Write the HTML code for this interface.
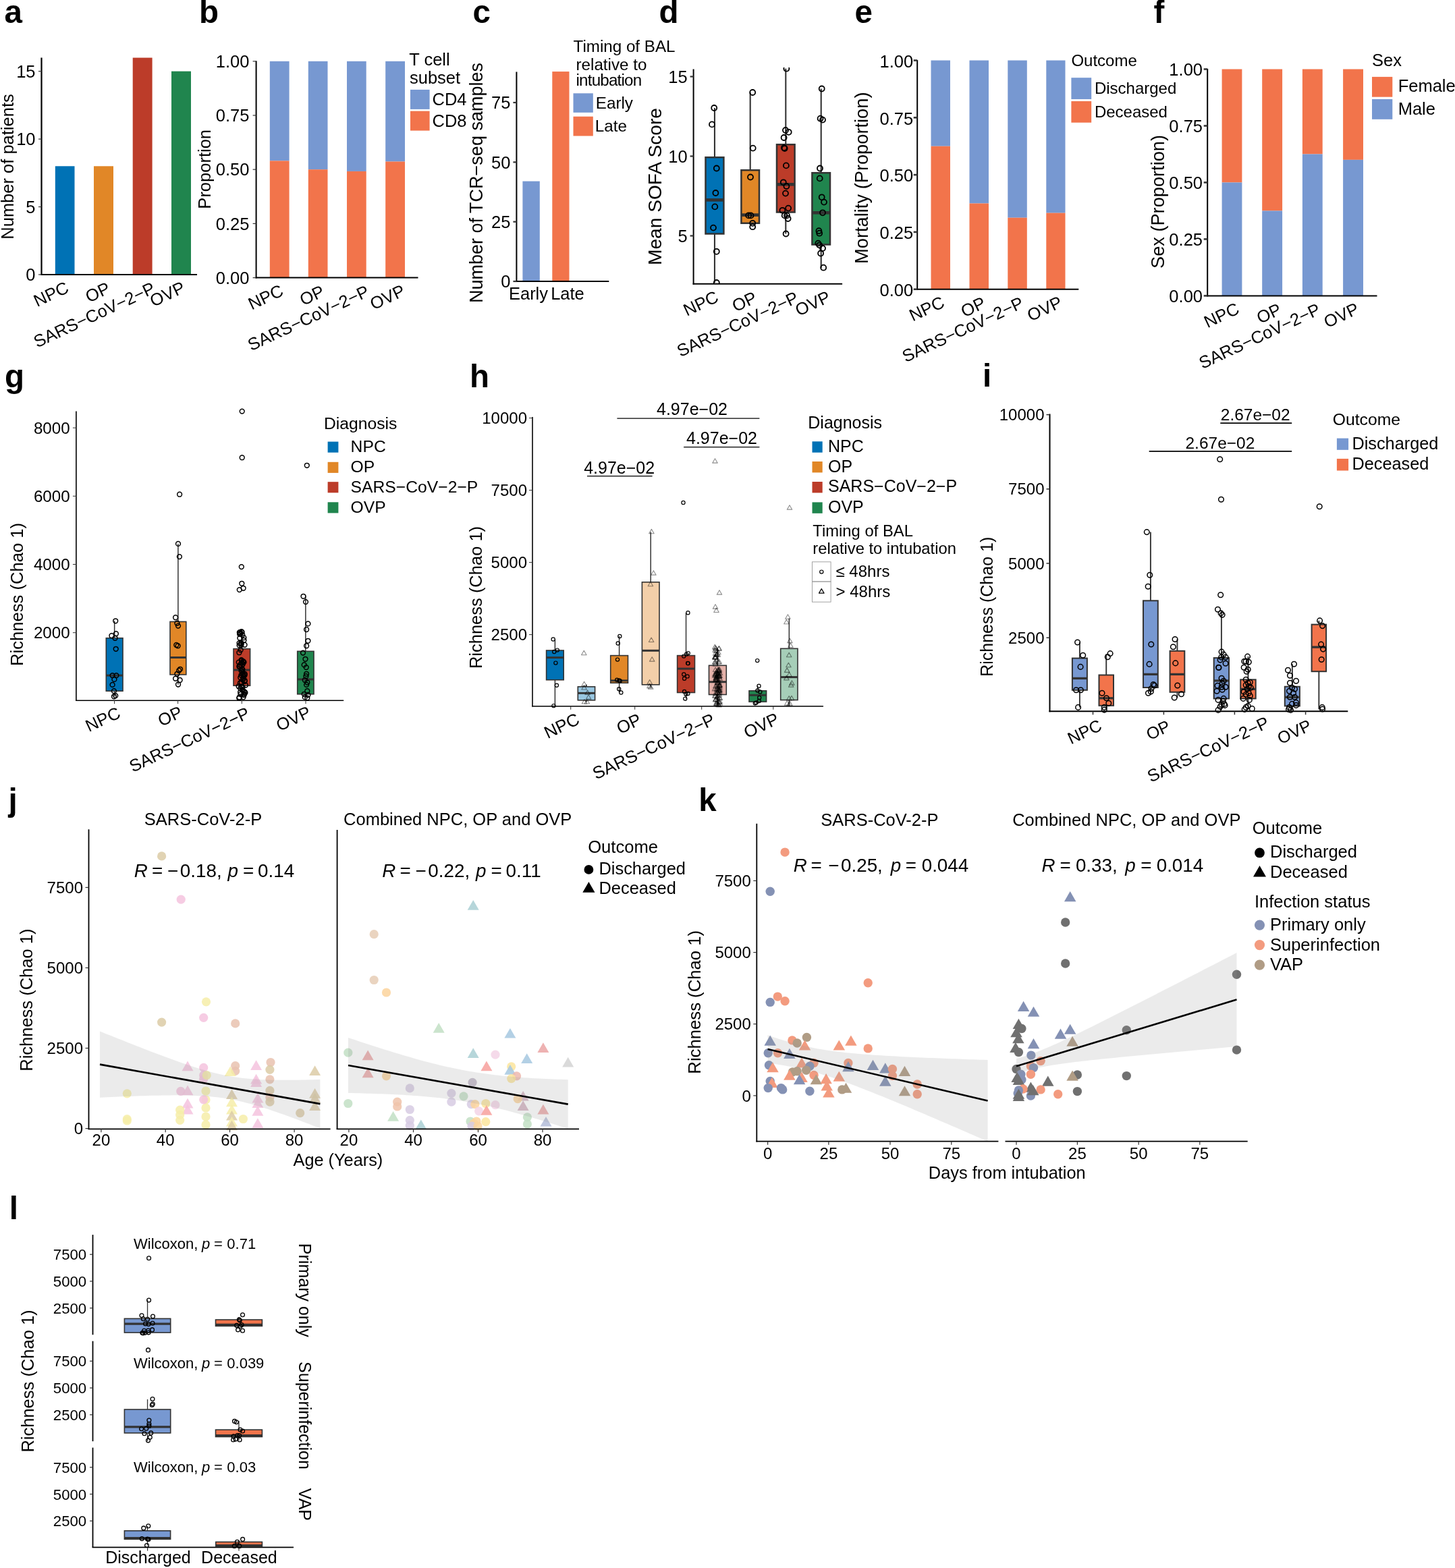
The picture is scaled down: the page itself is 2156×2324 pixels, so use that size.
<!DOCTYPE html>
<html><head><meta charset="utf-8"><title>Figure</title>
<style>
html,body{margin:0;padding:0;background:#fff;overflow:hidden;}
svg{display:block;}
text{font-family:"Liberation Sans",Arial,Helvetica,sans-serif;}
</style></head><body>
<svg width="2156" height="2324" viewBox="0 0 2156 2324">
<rect width="2156" height="2324" fill="#fff"/>
<text x="6.5" y="34.2" font-size="47.5" font-weight="bold">a</text>
<rect x="81.8" y="246.28" width="28.7" height="160.72" fill="#0072B5"/>
<rect x="139" y="246.28" width="29" height="160.72" fill="#E18727"/>
<rect x="196.7" y="85.56" width="28.9" height="321.44" fill="#BC3C29"/>
<rect x="254" y="105.65" width="29" height="301.35" fill="#20854E"/>
<line x1="61.5" y1="85.6" x2="61.5" y2="408" stroke="#000" stroke-width="2.2"/>
<line x1="60.4" y1="407" x2="292" y2="407" stroke="#000" stroke-width="2.2"/>
<line x1="57" y1="407" x2="61.5" y2="407" stroke="#333" stroke-width="1.2"/>
<text x="52.5" y="416.18" font-size="25.5" text-anchor="end">0</text>
<line x1="57" y1="306.55" x2="61.5" y2="306.55" stroke="#333" stroke-width="1.2"/>
<text x="52.5" y="315.73" font-size="25.5" text-anchor="end">5</text>
<line x1="57" y1="206.1" x2="61.5" y2="206.1" stroke="#333" stroke-width="1.2"/>
<text x="52.5" y="215.28" font-size="25.5" text-anchor="end">10</text>
<line x1="57" y1="105.65" x2="61.5" y2="105.65" stroke="#333" stroke-width="1.2"/>
<text x="52.5" y="114.83" font-size="25.5" text-anchor="end">15</text>
<text transform="translate(103.75 432.4) rotate(-25)" font-size="25.5" text-anchor="end">NPC</text>
<text transform="translate(165.1 433.4) rotate(-25)" font-size="25.5" text-anchor="end">OP</text>
<text transform="translate(231.75 433.4) rotate(-25)" font-size="25.5" text-anchor="end">SARS−CoV−2−P</text>
<text transform="translate(276.1 432.4) rotate(-25)" font-size="25.5" text-anchor="end">OVP</text>
<text transform="translate(19.5 247) rotate(-90)" font-size="25.5" text-anchor="middle">Number of patients</text>
<text x="295" y="34.2" font-size="47.5" font-weight="bold">b</text>
<rect x="399.8" y="90.8" width="28.8" height="147.57" fill="#7798D1"/>
<rect x="399.8" y="238.37" width="28.8" height="173.23" fill="#F2744B"/>
<rect x="456.8" y="90.8" width="28.7" height="160.4" fill="#7798D1"/>
<rect x="456.8" y="251.2" width="28.7" height="160.4" fill="#F2744B"/>
<rect x="514" y="90.8" width="28.7" height="163.13" fill="#7798D1"/>
<rect x="514" y="253.93" width="28.7" height="157.67" fill="#F2744B"/>
<rect x="571.2" y="90.8" width="28.8" height="148.69" fill="#7798D1"/>
<rect x="571.2" y="239.49" width="28.8" height="172.11" fill="#F2744B"/>
<line x1="379.6" y1="90.3" x2="379.6" y2="412.6" stroke="#000" stroke-width="2"/>
<line x1="378.6" y1="411.6" x2="619.5" y2="411.6" stroke="#000" stroke-width="2"/>
<line x1="374.6" y1="411.6" x2="379.6" y2="411.6" stroke="#333" stroke-width="1.2"/>
<text x="369.4" y="420.78" font-size="25.5" text-anchor="end">0.00</text>
<line x1="374.6" y1="331.4" x2="379.6" y2="331.4" stroke="#333" stroke-width="1.2"/>
<text x="369.4" y="340.58" font-size="25.5" text-anchor="end">0.25</text>
<line x1="374.6" y1="251.2" x2="379.6" y2="251.2" stroke="#333" stroke-width="1.2"/>
<text x="369.4" y="260.38" font-size="25.5" text-anchor="end">0.50</text>
<line x1="374.6" y1="171" x2="379.6" y2="171" stroke="#333" stroke-width="1.2"/>
<text x="369.4" y="180.18" font-size="25.5" text-anchor="end">0.75</text>
<line x1="374.6" y1="90.8" x2="379.6" y2="90.8" stroke="#333" stroke-width="1.2"/>
<text x="369.4" y="99.98" font-size="25.5" text-anchor="end">1.00</text>
<text transform="translate(421.8 437) rotate(-25)" font-size="25.5" text-anchor="end">NPC</text>
<text transform="translate(482.75 438) rotate(-25)" font-size="25.5" text-anchor="end">OP</text>
<text transform="translate(548.95 438) rotate(-25)" font-size="25.5" text-anchor="end">SARS−CoV−2−P</text>
<text transform="translate(602.2 437) rotate(-25)" font-size="25.5" text-anchor="end">OVP</text>
<text transform="translate(311.5 250.8) rotate(-90)" font-size="25.5" text-anchor="middle">Proportion</text>
<text x="606.2" y="97" font-size="25.5">T cell</text>
<text x="607" y="123.5" font-size="25.5">subset</text>
<rect x="608" y="132.9" width="28.6" height="29" fill="#7798D1"/>
<rect x="608" y="164.6" width="28.6" height="29" fill="#F2744B"/>
<text x="640.5" y="156" font-size="25.5">CD4</text>
<text x="640.5" y="187.5" font-size="25.5">CD8</text>
<text x="700.5" y="34.2" font-size="47.5" font-weight="bold">c</text>
<rect x="774.4" y="268.6" width="25.4" height="148.4" fill="#7798D1"/>
<rect x="818.3" y="106.07" width="25.2" height="310.93" fill="#F2744B"/>
<line x1="765.4" y1="106.6" x2="765.4" y2="418" stroke="#000" stroke-width="2"/>
<line x1="764.4" y1="417" x2="902.3" y2="417" stroke="#000" stroke-width="2"/>
<line x1="760.4" y1="417" x2="765.4" y2="417" stroke="#333" stroke-width="2.2"/>
<text x="756.4" y="426.18" font-size="25.5" text-anchor="end">0</text>
<line x1="760.4" y1="328.67" x2="765.4" y2="328.67" stroke="#333" stroke-width="2.2"/>
<text x="756.4" y="337.85" font-size="25.5" text-anchor="end">25</text>
<line x1="760.4" y1="240.34" x2="765.4" y2="240.34" stroke="#333" stroke-width="2.2"/>
<text x="756.4" y="249.52" font-size="25.5" text-anchor="end">50</text>
<line x1="760.4" y1="152" x2="765.4" y2="152" stroke="#333" stroke-width="2.2"/>
<text x="756.4" y="161.18" font-size="25.5" text-anchor="end">75</text>
<text x="783" y="443.5" font-size="25.5" text-anchor="middle">Early</text>
<text x="841" y="443.5" font-size="25.5" text-anchor="middle">Late</text>
<text transform="translate(715 271) rotate(-90)" font-size="27" text-anchor="middle">Number of TCR−seq samples</text>
<text x="849.5" y="77.4" font-size="24.2">Timing of BAL</text>
<text x="853.5" y="104.4" font-size="24.2">relative to</text>
<text x="853.5" y="127.4" font-size="24.2" letter-spacing="-0.8">intubation</text>
<rect x="849.5" y="138.3" width="29.3" height="28.5" fill="#7798D1"/>
<rect x="849.5" y="172.7" width="29.3" height="28.8" fill="#F2744B"/>
<text x="882.8" y="160.5" font-size="24.2">Early</text>
<text x="881.8" y="194.5" font-size="24.2">Late</text>
<text x="976.5" y="34.2" font-size="47.5" font-weight="bold">d</text>
<line x1="1027.6" y1="102.5" x2="1027.6" y2="421.8" stroke="#000" stroke-width="2"/>
<line x1="1026.6" y1="420.8" x2="1248.1" y2="420.8" stroke="#000" stroke-width="2"/>
<line x1="1022.6" y1="349.5" x2="1027.6" y2="349.5" stroke="#333" stroke-width="2.2"/>
<text x="1018.6" y="358.68" font-size="25.5" text-anchor="end">5</text>
<line x1="1022.6" y1="231.5" x2="1027.6" y2="231.5" stroke="#333" stroke-width="2.2"/>
<text x="1018.6" y="240.68" font-size="25.5" text-anchor="end">10</text>
<line x1="1022.6" y1="113.5" x2="1027.6" y2="113.5" stroke="#333" stroke-width="2.2"/>
<text x="1018.6" y="122.68" font-size="25.5" text-anchor="end">15</text>
<text transform="translate(1066.55 446.2) rotate(-25)" font-size="25.5" text-anchor="end">NPC</text>
<text transform="translate(1123.3 447.2) rotate(-25)" font-size="25.5" text-anchor="end">OP</text>
<text transform="translate(1184.9 447.2) rotate(-25)" font-size="25.5" text-anchor="end">SARS−CoV−2−P</text>
<text transform="translate(1232.3 446.2) rotate(-25)" font-size="25.5" text-anchor="end">OVP</text>
<text transform="translate(980 276.5) rotate(-90)" font-size="28.15" text-anchor="middle">Mean SOFA Score</text>
<clipPath id="clipd"><rect x="1028" y="100" width="230" height="320"/></clipPath><g clip-path="url(#clipd)">
<line x1="1058.95" y1="160" x2="1058.95" y2="233.2" stroke="#333" stroke-width="2.1"/>
<line x1="1058.95" y1="346.5" x2="1058.95" y2="419" stroke="#333" stroke-width="2.1"/>
<rect x="1045.5" y="233.2" width="26.9" height="113.3" fill="#0072B5" stroke="#333" stroke-width="2.5"/>
<line x1="1045.5" y1="296.4" x2="1072.4" y2="296.4" stroke="#333" stroke-width="4.6"/>
<line x1="1111.7" y1="137" x2="1111.7" y2="252.2" stroke="#333" stroke-width="2.1"/>
<rect x="1098.4" y="252.2" width="26.6" height="78.6" fill="#E18727" stroke="#333" stroke-width="2.5"/>
<line x1="1098.4" y1="318.6" x2="1125" y2="318.6" stroke="#333" stroke-width="4.6"/>
<line x1="1164.3" y1="101.7" x2="1164.3" y2="214.2" stroke="#333" stroke-width="2.1"/>
<line x1="1164.3" y1="314.5" x2="1164.3" y2="346.5" stroke="#333" stroke-width="2.1"/>
<rect x="1151" y="214.2" width="26.6" height="100.3" fill="#BC3C29" stroke="#333" stroke-width="2.5"/>
<line x1="1151" y1="273.3" x2="1177.6" y2="273.3" stroke="#333" stroke-width="4.6"/>
<line x1="1216.7" y1="131.5" x2="1216.7" y2="256.2" stroke="#333" stroke-width="2.1"/>
<line x1="1216.7" y1="362.5" x2="1216.7" y2="397.2" stroke="#333" stroke-width="2.1"/>
<rect x="1203.4" y="256.2" width="26.6" height="106.3" fill="#20854E" stroke="#333" stroke-width="2.5"/>
<line x1="1203.4" y1="315.3" x2="1230" y2="315.3" stroke="#333" stroke-width="4.6"/>
<circle cx="1058.2" cy="160" r="4" fill="none" stroke="#000" stroke-width="1.8"/>
<circle cx="1055" cy="184.4" r="4" fill="none" stroke="#000" stroke-width="1.8"/>
<circle cx="1061.8" cy="249.5" r="4" fill="none" stroke="#000" stroke-width="1.8"/>
<circle cx="1060.4" cy="286" r="4" fill="none" stroke="#000" stroke-width="1.8"/>
<circle cx="1059.3" cy="306.4" r="4" fill="none" stroke="#000" stroke-width="1.8"/>
<circle cx="1057" cy="337.6" r="4" fill="none" stroke="#000" stroke-width="1.8"/>
<circle cx="1061.8" cy="372.8" r="4" fill="none" stroke="#000" stroke-width="1.8"/>
<circle cx="1061.8" cy="419" r="4" fill="none" stroke="#000" stroke-width="1.8"/>
<circle cx="1115.2" cy="137" r="4" fill="none" stroke="#000" stroke-width="1.8"/>
<circle cx="1115.7" cy="219.6" r="4" fill="none" stroke="#000" stroke-width="1.8"/>
<circle cx="1112" cy="262.5" r="4" fill="none" stroke="#000" stroke-width="1.8"/>
<circle cx="1109.2" cy="319.4" r="4" fill="none" stroke="#000" stroke-width="1.8"/>
<circle cx="1112.5" cy="319.4" r="4" fill="none" stroke="#000" stroke-width="1.8"/>
<circle cx="1115.2" cy="330.8" r="4" fill="none" stroke="#000" stroke-width="1.8"/>
<circle cx="1115.2" cy="336.2" r="4" fill="none" stroke="#000" stroke-width="1.8"/>
<circle cx="1165.4" cy="101.7" r="4" fill="none" stroke="#000" stroke-width="1.8"/>
<circle cx="1164" cy="193" r="4" fill="none" stroke="#000" stroke-width="1.8"/>
<circle cx="1168.7" cy="195.8" r="4" fill="none" stroke="#000" stroke-width="1.8"/>
<circle cx="1161.6" cy="204" r="4" fill="none" stroke="#000" stroke-width="1.8"/>
<circle cx="1161.9" cy="219" r="4" fill="none" stroke="#000" stroke-width="1.8"/>
<circle cx="1162.7" cy="220" r="4" fill="none" stroke="#000" stroke-width="1.8"/>
<circle cx="1164.9" cy="245.4" r="4" fill="none" stroke="#000" stroke-width="1.8"/>
<circle cx="1160.8" cy="270.3" r="4" fill="none" stroke="#000" stroke-width="1.8"/>
<circle cx="1165.4" cy="276" r="4" fill="none" stroke="#000" stroke-width="1.8"/>
<circle cx="1164" cy="286.6" r="4" fill="none" stroke="#000" stroke-width="1.8"/>
<circle cx="1168.1" cy="308.6" r="4" fill="none" stroke="#000" stroke-width="1.8"/>
<circle cx="1159.4" cy="311.8" r="4" fill="none" stroke="#000" stroke-width="1.8"/>
<circle cx="1162.7" cy="319.4" r="4" fill="none" stroke="#000" stroke-width="1.8"/>
<circle cx="1166" cy="319.4" r="4" fill="none" stroke="#000" stroke-width="1.8"/>
<circle cx="1167.6" cy="324" r="4" fill="none" stroke="#000" stroke-width="1.8"/>
<circle cx="1164.6" cy="346.5" r="4" fill="none" stroke="#000" stroke-width="1.8"/>
<circle cx="1217.7" cy="131.5" r="4" fill="none" stroke="#000" stroke-width="1.8"/>
<circle cx="1215.6" cy="175.7" r="4" fill="none" stroke="#000" stroke-width="1.8"/>
<circle cx="1219" cy="177.6" r="4" fill="none" stroke="#000" stroke-width="1.8"/>
<circle cx="1215" cy="249.5" r="4" fill="none" stroke="#000" stroke-width="1.8"/>
<circle cx="1214.7" cy="264.4" r="4" fill="none" stroke="#000" stroke-width="1.8"/>
<circle cx="1217.7" cy="292.3" r="4" fill="none" stroke="#000" stroke-width="1.8"/>
<circle cx="1221" cy="299.6" r="4" fill="none" stroke="#000" stroke-width="1.8"/>
<circle cx="1219" cy="315.3" r="4" fill="none" stroke="#000" stroke-width="1.8"/>
<circle cx="1213.4" cy="342.2" r="4" fill="none" stroke="#000" stroke-width="1.8"/>
<circle cx="1214.2" cy="345.7" r="4" fill="none" stroke="#000" stroke-width="1.8"/>
<circle cx="1212.3" cy="360.6" r="4" fill="none" stroke="#000" stroke-width="1.8"/>
<circle cx="1214.2" cy="363.3" r="4" fill="none" stroke="#000" stroke-width="1.8"/>
<circle cx="1219" cy="368" r="4" fill="none" stroke="#000" stroke-width="1.8"/>
<circle cx="1216.1" cy="375.5" r="4" fill="none" stroke="#000" stroke-width="1.8"/>
<circle cx="1220.2" cy="396.7" r="4" fill="none" stroke="#000" stroke-width="1.8"/>
</g>
<text x="1266.5" y="34.2" font-size="47.5" font-weight="bold">e</text>
<rect x="1379.5" y="89.5" width="28.5" height="127.2" fill="#7798D1"/>
<rect x="1379.5" y="216.7" width="28.5" height="212" fill="#F2744B"/>
<rect x="1436.5" y="89.5" width="28.5" height="212" fill="#7798D1"/>
<rect x="1436.5" y="301.5" width="28.5" height="127.2" fill="#F2744B"/>
<rect x="1493.3" y="89.5" width="28.5" height="233.2" fill="#7798D1"/>
<rect x="1493.3" y="322.7" width="28.5" height="106" fill="#F2744B"/>
<rect x="1550.3" y="89.5" width="28.2" height="226.14" fill="#7798D1"/>
<rect x="1550.3" y="315.64" width="28.2" height="113.06" fill="#F2744B"/>
<line x1="1359.2" y1="89" x2="1359.2" y2="429.7" stroke="#000" stroke-width="2"/>
<line x1="1358.2" y1="428.7" x2="1598.3" y2="428.7" stroke="#000" stroke-width="2"/>
<line x1="1353.7" y1="428.7" x2="1359.2" y2="428.7" stroke="#333" stroke-width="2.6"/>
<text x="1353.2" y="438.9" font-size="25.5" text-anchor="end">0.00</text>
<line x1="1353.7" y1="343.9" x2="1359.2" y2="343.9" stroke="#333" stroke-width="2.6"/>
<text x="1353.2" y="354.1" font-size="25.5" text-anchor="end">0.25</text>
<line x1="1353.7" y1="259.1" x2="1359.2" y2="259.1" stroke="#333" stroke-width="2.6"/>
<text x="1353.2" y="269.3" font-size="25.5" text-anchor="end">0.50</text>
<line x1="1353.7" y1="174.3" x2="1359.2" y2="174.3" stroke="#333" stroke-width="2.6"/>
<text x="1353.2" y="184.5" font-size="25.5" text-anchor="end">0.75</text>
<line x1="1353.7" y1="89.5" x2="1359.2" y2="89.5" stroke="#333" stroke-width="2.6"/>
<text x="1353.2" y="99.7" font-size="25.5" text-anchor="end">1.00</text>
<text transform="translate(1401.35 454.1) rotate(-25)" font-size="25.5" text-anchor="end">NPC</text>
<text transform="translate(1462.35 455.1) rotate(-25)" font-size="25.5" text-anchor="end">OP</text>
<text transform="translate(1518.65 455.1) rotate(-25)" font-size="25.5" text-anchor="end">SARS−CoV−2−P</text>
<text transform="translate(1576 454.1) rotate(-25)" font-size="25.5" text-anchor="end">OVP</text>
<text transform="translate(1285.8 263.7) rotate(-90)" font-size="27.25" text-anchor="middle">Mortality (Proportion)</text>
<text x="1587.4" y="98.2" font-size="24">Outcome</text>
<rect x="1587.4" y="115.2" width="29.8" height="31.8" fill="#7798D1"/>
<rect x="1587.4" y="150" width="29.8" height="31.7" fill="#F2744B"/>
<text x="1621.9" y="139" font-size="24">Discharged</text>
<text x="1621.9" y="173.5" font-size="24">Deceased</text>
<text x="1709.5" y="34.2" font-size="47.5" font-weight="bold">f</text>
<rect x="1810.6" y="102.5" width="29.8" height="167.95" fill="#F2744B"/>
<rect x="1810.6" y="270.45" width="29.8" height="167.95" fill="#7798D1"/>
<rect x="1870.2" y="102.5" width="29.9" height="209.94" fill="#F2744B"/>
<rect x="1870.2" y="312.44" width="29.9" height="125.96" fill="#7798D1"/>
<rect x="1929.9" y="102.5" width="29.8" height="125.96" fill="#F2744B"/>
<rect x="1929.9" y="228.46" width="29.8" height="209.94" fill="#7798D1"/>
<rect x="1990.1" y="102.5" width="29.9" height="134.36" fill="#F2744B"/>
<rect x="1990.1" y="236.86" width="29.9" height="201.54" fill="#7798D1"/>
<line x1="1789.2" y1="102" x2="1789.2" y2="439.4" stroke="#000" stroke-width="2"/>
<line x1="1788.2" y1="438.4" x2="2040.5" y2="438.4" stroke="#000" stroke-width="2"/>
<line x1="1783.7" y1="438.4" x2="1789.2" y2="438.4" stroke="#333" stroke-width="2.6"/>
<text x="1782" y="447.58" font-size="25.5" text-anchor="end">0.00</text>
<line x1="1783.7" y1="354.42" x2="1789.2" y2="354.42" stroke="#333" stroke-width="2.6"/>
<text x="1782" y="363.6" font-size="25.5" text-anchor="end">0.25</text>
<line x1="1783.7" y1="270.45" x2="1789.2" y2="270.45" stroke="#333" stroke-width="2.6"/>
<text x="1782" y="279.63" font-size="25.5" text-anchor="end">0.50</text>
<line x1="1783.7" y1="186.47" x2="1789.2" y2="186.47" stroke="#333" stroke-width="2.6"/>
<text x="1782" y="195.66" font-size="25.5" text-anchor="end">0.75</text>
<line x1="1783.7" y1="102.5" x2="1789.2" y2="102.5" stroke="#333" stroke-width="2.6"/>
<text x="1782" y="111.68" font-size="25.5" text-anchor="end">1.00</text>
<text transform="translate(1838.1 463.8) rotate(-25)" font-size="25.5" text-anchor="end">NPC</text>
<text transform="translate(1900.75 464.8) rotate(-25)" font-size="25.5" text-anchor="end">OP</text>
<text transform="translate(1958.4 464.8) rotate(-25)" font-size="25.5" text-anchor="end">SARS−CoV−2−P</text>
<text transform="translate(2015.65 463.8) rotate(-25)" font-size="25.5" text-anchor="end">OVP</text>
<text transform="translate(1724.5 299) rotate(-90)" font-size="27.2" text-anchor="middle">Sex (Proportion)</text>
<text x="2033" y="98.2" font-size="25.5">Sex</text>
<rect x="2033" y="113.9" width="30.3" height="29.8" fill="#F2744B"/>
<rect x="2033" y="147" width="30.3" height="29.8" fill="#7798D1"/>
<text x="2071.7" y="135.8" font-size="25.5">Female</text>
<text x="2071.7" y="169.8" font-size="25.5">Male</text>
<text x="7" y="574" font-size="47.5" font-weight="bold">g</text>
<line x1="169.65" y1="920.3" x2="169.65" y2="945.7" stroke="#333" stroke-width="1.5"/>
<line x1="169.65" y1="1024.2" x2="169.65" y2="1032.3" stroke="#333" stroke-width="1.5"/>
<rect x="157.3" y="945.7" width="24.7" height="78.5" fill="#0072B5" stroke="#333" stroke-width="1.6"/>
<line x1="157.3" y1="1001.1" x2="182" y2="1001.1" stroke="#333" stroke-width="3"/>
<line x1="263.9" y1="805.9" x2="263.9" y2="921.4" stroke="#333" stroke-width="1.5"/>
<line x1="263.9" y1="999.9" x2="263.9" y2="1014.5" stroke="#333" stroke-width="1.5"/>
<rect x="252" y="921.4" width="23.8" height="78.5" fill="#E18727" stroke="#333" stroke-width="1.6"/>
<line x1="252" y1="974.5" x2="275.8" y2="974.5" stroke="#333" stroke-width="3"/>
<line x1="358.3" y1="935.7" x2="358.3" y2="961.6" stroke="#333" stroke-width="1.5"/>
<line x1="358.3" y1="1016.2" x2="358.3" y2="1037.5" stroke="#333" stroke-width="1.5"/>
<rect x="346" y="961.6" width="24.6" height="54.6" fill="#BC3C29" stroke="#333" stroke-width="1.6"/>
<line x1="346" y1="993" x2="370.6" y2="993" stroke="#333" stroke-width="3"/>
<line x1="452.85" y1="883.3" x2="452.85" y2="965.3" stroke="#333" stroke-width="1.5"/>
<line x1="452.85" y1="1028.8" x2="452.85" y2="1034.6" stroke="#333" stroke-width="1.5"/>
<rect x="440.7" y="965.3" width="24.3" height="63.5" fill="#20854E" stroke="#333" stroke-width="1.6"/>
<line x1="440.7" y1="1006.9" x2="465" y2="1006.9" stroke="#333" stroke-width="3"/>
<circle cx="171.2" cy="920.3" r="3.4" fill="none" stroke="#000" stroke-width="1.5"/>
<circle cx="165.4" cy="942.2" r="3.4" fill="none" stroke="#000" stroke-width="1.5"/>
<circle cx="171.9" cy="939.2" r="3.4" fill="none" stroke="#000" stroke-width="1.5"/>
<circle cx="170.5" cy="945.7" r="3.4" fill="none" stroke="#000" stroke-width="1.5"/>
<circle cx="171.7" cy="961.8" r="3.4" fill="none" stroke="#000" stroke-width="1.5"/>
<circle cx="166.6" cy="1001.1" r="3.4" fill="none" stroke="#000" stroke-width="1.5"/>
<circle cx="172.4" cy="1001.1" r="3.4" fill="none" stroke="#000" stroke-width="1.5"/>
<circle cx="169.4" cy="1006.9" r="3.4" fill="none" stroke="#000" stroke-width="1.5"/>
<circle cx="166.6" cy="1014.9" r="3.4" fill="none" stroke="#000" stroke-width="1.5"/>
<circle cx="168.9" cy="1024.2" r="3.4" fill="none" stroke="#000" stroke-width="1.5"/>
<circle cx="171.2" cy="1031.1" r="3.4" fill="none" stroke="#000" stroke-width="1.5"/>
<circle cx="168.9" cy="1032.3" r="3.4" fill="none" stroke="#000" stroke-width="1.5"/>
<circle cx="266.1" cy="732.7" r="3.4" fill="none" stroke="#000" stroke-width="1.5"/>
<circle cx="264" cy="805.9" r="3.4" fill="none" stroke="#000" stroke-width="1.5"/>
<circle cx="265.9" cy="825.1" r="3.4" fill="none" stroke="#000" stroke-width="1.5"/>
<circle cx="260.1" cy="915.2" r="3.4" fill="none" stroke="#000" stroke-width="1.5"/>
<circle cx="262.4" cy="923.7" r="3.4" fill="none" stroke="#000" stroke-width="1.5"/>
<circle cx="264" cy="927.6" r="3.4" fill="none" stroke="#000" stroke-width="1.5"/>
<circle cx="261.3" cy="956" r="3.4" fill="none" stroke="#000" stroke-width="1.5"/>
<circle cx="263.6" cy="957.2" r="3.4" fill="none" stroke="#000" stroke-width="1.5"/>
<circle cx="267" cy="991.8" r="3.4" fill="none" stroke="#000" stroke-width="1.5"/>
<circle cx="265.2" cy="993.7" r="3.4" fill="none" stroke="#000" stroke-width="1.5"/>
<circle cx="262.4" cy="998.8" r="3.4" fill="none" stroke="#000" stroke-width="1.5"/>
<circle cx="260.1" cy="1005.7" r="3.4" fill="none" stroke="#000" stroke-width="1.5"/>
<circle cx="266.6" cy="1008" r="3.4" fill="none" stroke="#000" stroke-width="1.5"/>
<circle cx="264" cy="1014.5" r="3.4" fill="none" stroke="#000" stroke-width="1.5"/>
<circle cx="358.7" cy="609.6" r="3.4" fill="none" stroke="#000" stroke-width="1.5"/>
<circle cx="358.7" cy="678.2" r="3.4" fill="none" stroke="#000" stroke-width="1.5"/>
<circle cx="357.8" cy="840.1" r="3.4" fill="none" stroke="#000" stroke-width="1.5"/>
<circle cx="358.3" cy="864.8" r="3.4" fill="none" stroke="#000" stroke-width="1.5"/>
<circle cx="354.8" cy="874.1" r="3.4" fill="none" stroke="#000" stroke-width="1.5"/>
<circle cx="360.6" cy="871.8" r="3.4" fill="none" stroke="#000" stroke-width="1.5"/>
<circle cx="454.8" cy="689.8" r="3.4" fill="none" stroke="#000" stroke-width="1.5"/>
<circle cx="449.5" cy="883.8" r="3.4" fill="none" stroke="#000" stroke-width="1.5"/>
<circle cx="453" cy="892.1" r="3.4" fill="none" stroke="#000" stroke-width="1.5"/>
<circle cx="456.4" cy="924.4" r="3.4" fill="none" stroke="#000" stroke-width="1.5"/>
<circle cx="454.1" cy="933" r="3.4" fill="none" stroke="#000" stroke-width="1.5"/>
<circle cx="456.4" cy="949.8" r="3.4" fill="none" stroke="#000" stroke-width="1.5"/>
<circle cx="454.1" cy="957.2" r="3.4" fill="none" stroke="#000" stroke-width="1.5"/>
<circle cx="449" cy="967.6" r="3.4" fill="none" stroke="#000" stroke-width="1.5"/>
<circle cx="452.5" cy="976.8" r="3.4" fill="none" stroke="#000" stroke-width="1.5"/>
<circle cx="450.7" cy="985.4" r="3.4" fill="none" stroke="#000" stroke-width="1.5"/>
<circle cx="453.7" cy="989.1" r="3.4" fill="none" stroke="#000" stroke-width="1.5"/>
<circle cx="454.1" cy="998.8" r="3.4" fill="none" stroke="#000" stroke-width="1.5"/>
<circle cx="453.4" cy="1002.2" r="3.4" fill="none" stroke="#000" stroke-width="1.5"/>
<circle cx="451.8" cy="1008" r="3.4" fill="none" stroke="#000" stroke-width="1.5"/>
<circle cx="455.3" cy="1011.5" r="3.4" fill="none" stroke="#000" stroke-width="1.5"/>
<circle cx="454.1" cy="1014.9" r="3.4" fill="none" stroke="#000" stroke-width="1.5"/>
<circle cx="455.3" cy="1024.2" r="3.4" fill="none" stroke="#000" stroke-width="1.5"/>
<circle cx="450.7" cy="1028.8" r="3.4" fill="none" stroke="#000" stroke-width="1.5"/>
<circle cx="456.4" cy="1030" r="3.4" fill="none" stroke="#000" stroke-width="1.5"/>
<circle cx="451.8" cy="1033.4" r="3.4" fill="none" stroke="#000" stroke-width="1.5"/>
<circle cx="455.3" cy="1034.6" r="3.4" fill="none" stroke="#000" stroke-width="1.5"/>
<circle cx="355.36" cy="945.69" r="3.4" fill="none" stroke="#000" stroke-width="1.5"/>
<circle cx="354.65" cy="956.48" r="3.4" fill="none" stroke="#000" stroke-width="1.5"/>
<circle cx="357.29" cy="952.68" r="3.4" fill="none" stroke="#000" stroke-width="1.5"/>
<circle cx="358.57" cy="936.91" r="3.4" fill="none" stroke="#000" stroke-width="1.5"/>
<circle cx="357.9" cy="936.24" r="3.4" fill="none" stroke="#000" stroke-width="1.5"/>
<circle cx="354.82" cy="937.31" r="3.4" fill="none" stroke="#000" stroke-width="1.5"/>
<circle cx="361.44" cy="949.01" r="3.4" fill="none" stroke="#000" stroke-width="1.5"/>
<circle cx="356.01" cy="939.09" r="3.4" fill="none" stroke="#000" stroke-width="1.5"/>
<circle cx="362.53" cy="955.71" r="3.4" fill="none" stroke="#000" stroke-width="1.5"/>
<circle cx="357.57" cy="954.04" r="3.4" fill="none" stroke="#000" stroke-width="1.5"/>
<circle cx="354.42" cy="967.22" r="3.4" fill="none" stroke="#000" stroke-width="1.5"/>
<circle cx="356.61" cy="963.33" r="3.4" fill="none" stroke="#000" stroke-width="1.5"/>
<circle cx="355.06" cy="939.76" r="3.4" fill="none" stroke="#000" stroke-width="1.5"/>
<circle cx="361.35" cy="945.18" r="3.4" fill="none" stroke="#000" stroke-width="1.5"/>
<circle cx="359.23" cy="940.96" r="3.4" fill="none" stroke="#000" stroke-width="1.5"/>
<circle cx="357.35" cy="956.08" r="3.4" fill="none" stroke="#000" stroke-width="1.5"/>
<circle cx="354.57" cy="953.08" r="3.4" fill="none" stroke="#000" stroke-width="1.5"/>
<circle cx="355.85" cy="936.97" r="3.4" fill="none" stroke="#000" stroke-width="1.5"/>
<circle cx="357.7" cy="1017.46" r="3.4" fill="none" stroke="#000" stroke-width="1.5"/>
<circle cx="359.44" cy="996.22" r="3.4" fill="none" stroke="#000" stroke-width="1.5"/>
<circle cx="356.3" cy="1004.28" r="3.4" fill="none" stroke="#000" stroke-width="1.5"/>
<circle cx="360.69" cy="1024.07" r="3.4" fill="none" stroke="#000" stroke-width="1.5"/>
<circle cx="359.32" cy="992.16" r="3.4" fill="none" stroke="#000" stroke-width="1.5"/>
<circle cx="362.63" cy="1008.46" r="3.4" fill="none" stroke="#000" stroke-width="1.5"/>
<circle cx="356.17" cy="1020.31" r="3.4" fill="none" stroke="#000" stroke-width="1.5"/>
<circle cx="354.3" cy="1034.85" r="3.4" fill="none" stroke="#000" stroke-width="1.5"/>
<circle cx="361.33" cy="1002.25" r="3.4" fill="none" stroke="#000" stroke-width="1.5"/>
<circle cx="358.38" cy="986.82" r="3.4" fill="none" stroke="#000" stroke-width="1.5"/>
<circle cx="360.35" cy="980.27" r="3.4" fill="none" stroke="#000" stroke-width="1.5"/>
<circle cx="359.3" cy="1022.35" r="3.4" fill="none" stroke="#000" stroke-width="1.5"/>
<circle cx="356.45" cy="1028.78" r="3.4" fill="none" stroke="#000" stroke-width="1.5"/>
<circle cx="359.54" cy="1018.33" r="3.4" fill="none" stroke="#000" stroke-width="1.5"/>
<circle cx="358.02" cy="1011.63" r="3.4" fill="none" stroke="#000" stroke-width="1.5"/>
<circle cx="363.39" cy="1026.72" r="3.4" fill="none" stroke="#000" stroke-width="1.5"/>
<circle cx="360.31" cy="1005.5" r="3.4" fill="none" stroke="#000" stroke-width="1.5"/>
<circle cx="360.72" cy="981.52" r="3.4" fill="none" stroke="#000" stroke-width="1.5"/>
<circle cx="363.92" cy="1015.53" r="3.4" fill="none" stroke="#000" stroke-width="1.5"/>
<circle cx="356.13" cy="1025.67" r="3.4" fill="none" stroke="#000" stroke-width="1.5"/>
<circle cx="360.36" cy="1000.38" r="3.4" fill="none" stroke="#000" stroke-width="1.5"/>
<circle cx="358.08" cy="979.31" r="3.4" fill="none" stroke="#000" stroke-width="1.5"/>
<circle cx="354.29" cy="987.75" r="3.4" fill="none" stroke="#000" stroke-width="1.5"/>
<circle cx="361.45" cy="981.42" r="3.4" fill="none" stroke="#000" stroke-width="1.5"/>
<circle cx="355.72" cy="985.5" r="3.4" fill="none" stroke="#000" stroke-width="1.5"/>
<circle cx="362.59" cy="1000.68" r="3.4" fill="none" stroke="#000" stroke-width="1.5"/>
<circle cx="357.94" cy="982.67" r="3.4" fill="none" stroke="#000" stroke-width="1.5"/>
<circle cx="362.72" cy="1009.87" r="3.4" fill="none" stroke="#000" stroke-width="1.5"/>
<circle cx="362.5" cy="1025.52" r="3.4" fill="none" stroke="#000" stroke-width="1.5"/>
<circle cx="357.57" cy="994.15" r="3.4" fill="none" stroke="#000" stroke-width="1.5"/>
<circle cx="362.73" cy="998.81" r="3.4" fill="none" stroke="#000" stroke-width="1.5"/>
<circle cx="354.66" cy="1033.55" r="3.4" fill="none" stroke="#000" stroke-width="1.5"/>
<circle cx="355.55" cy="988.22" r="3.4" fill="none" stroke="#000" stroke-width="1.5"/>
<circle cx="358.33" cy="991.53" r="3.4" fill="none" stroke="#000" stroke-width="1.5"/>
<circle cx="355.89" cy="1012.17" r="3.4" fill="none" stroke="#000" stroke-width="1.5"/>
<circle cx="357.61" cy="978.24" r="3.4" fill="none" stroke="#000" stroke-width="1.5"/>
<circle cx="359.23" cy="999.42" r="3.4" fill="none" stroke="#000" stroke-width="1.5"/>
<circle cx="360.6" cy="1033.28" r="3.4" fill="none" stroke="#000" stroke-width="1.5"/>
<circle cx="359.79" cy="1007.9" r="3.4" fill="none" stroke="#000" stroke-width="1.5"/>
<circle cx="353.59" cy="1017.22" r="3.4" fill="none" stroke="#000" stroke-width="1.5"/>
<circle cx="361.58" cy="1030.17" r="3.4" fill="none" stroke="#000" stroke-width="1.5"/>
<circle cx="361.78" cy="1028.72" r="3.4" fill="none" stroke="#000" stroke-width="1.5"/>
<circle cx="357.39" cy="1000.76" r="3.4" fill="none" stroke="#000" stroke-width="1.5"/>
<circle cx="359.98" cy="984.01" r="3.4" fill="none" stroke="#000" stroke-width="1.5"/>
<circle cx="353.74" cy="981.61" r="3.4" fill="none" stroke="#000" stroke-width="1.5"/>
<line x1="112.9" y1="609.5" x2="112.9" y2="1039" stroke="#000" stroke-width="1.6"/>
<line x1="112.1" y1="1038.2" x2="509.2" y2="1038.2" stroke="#000" stroke-width="1.6"/>
<line x1="107.9" y1="937.7" x2="112.9" y2="937.7" stroke="#333" stroke-width="1"/>
<text x="103.7" y="946.41" font-size="24.2" text-anchor="end">2000</text>
<line x1="107.9" y1="836.5" x2="112.9" y2="836.5" stroke="#333" stroke-width="1"/>
<text x="103.7" y="845.21" font-size="24.2" text-anchor="end">4000</text>
<line x1="107.9" y1="735.3" x2="112.9" y2="735.3" stroke="#333" stroke-width="1"/>
<text x="103.7" y="744.01" font-size="24.2" text-anchor="end">6000</text>
<line x1="107.9" y1="634.1" x2="112.9" y2="634.1" stroke="#333" stroke-width="1"/>
<text x="103.7" y="642.81" font-size="24.2" text-anchor="end">8000</text>
<line x1="169.6" y1="1038.2" x2="169.6" y2="1043.2" stroke="#333" stroke-width="1"/>
<line x1="263.6" y1="1038.2" x2="263.6" y2="1043.2" stroke="#333" stroke-width="1"/>
<line x1="358.3" y1="1038.2" x2="358.3" y2="1043.2" stroke="#333" stroke-width="1"/>
<line x1="453" y1="1038.2" x2="453" y2="1043.2" stroke="#333" stroke-width="1"/>
<text transform="translate(180.2 1062.7) rotate(-25)" font-size="25.3" text-anchor="end">NPC</text>
<text transform="translate(272.2 1061.7) rotate(-25)" font-size="25.3" text-anchor="end">OP</text>
<text transform="translate(371.9 1063.2) rotate(-25)" font-size="25.3" text-anchor="end">SARS−CoV−2−P</text>
<text transform="translate(462.6 1061.7) rotate(-25)" font-size="25.3" text-anchor="end">OVP</text>
<text transform="translate(33.6 881) rotate(-90)" font-size="25.6" text-anchor="middle">Richness (Chao 1)</text>
<text x="480" y="635.7" font-size="24.7">Diagnosis</text>
<rect x="485.6" y="654.6" width="15.8" height="16.1" fill="#0072B5"/>
<rect x="485.6" y="684.8" width="15.8" height="16.1" fill="#E18727"/>
<rect x="485.6" y="714.2" width="15.8" height="16.1" fill="#BC3C29"/>
<rect x="485.6" y="744.3" width="15.8" height="16.1" fill="#20854E"/>
<text x="519.6" y="669.9" font-size="24.7">NPC</text>
<text x="519.6" y="699.7" font-size="24.7">OP</text>
<text x="519.6" y="729.7" font-size="24.7">SARS−CoV−2−P</text>
<text x="519.6" y="759.5" font-size="24.7">OVP</text>
<text x="696" y="573.9" font-size="47.5" font-weight="bold">h</text>
<line x1="822.4" y1="947.5" x2="822.4" y2="964" stroke="#333" stroke-width="1.5"/>
<line x1="822.4" y1="1007.7" x2="822.4" y2="1046.1" stroke="#333" stroke-width="1.5"/>
<rect x="809.6" y="964" width="25.6" height="43.7" fill="#0072B5" stroke="#333" stroke-width="1.6"/>
<line x1="809.6" y1="974.6" x2="835.2" y2="974.6" stroke="#333" stroke-width="3"/>
<line x1="868.95" y1="1014.5" x2="868.95" y2="1017.8" stroke="#333" stroke-width="1.5"/>
<line x1="868.95" y1="1037.8" x2="868.95" y2="1040.8" stroke="#333" stroke-width="1.5"/>
<rect x="856.3" y="1017.8" width="25.3" height="20" fill="#99C7E1" stroke="#333" stroke-width="1.6"/>
<line x1="856.3" y1="1027.3" x2="881.6" y2="1027.3" stroke="#333" stroke-width="3"/>
<line x1="917.6" y1="943" x2="917.6" y2="971.6" stroke="#333" stroke-width="1.5"/>
<line x1="917.6" y1="1012.2" x2="917.6" y2="1026.5" stroke="#333" stroke-width="1.5"/>
<rect x="904.7" y="971.6" width="25.8" height="40.6" fill="#E18727" stroke="#333" stroke-width="1.6"/>
<line x1="904.7" y1="1008.8" x2="930.5" y2="1008.8" stroke="#333" stroke-width="3"/>
<line x1="964.2" y1="788.6" x2="964.2" y2="862.8" stroke="#333" stroke-width="1.5"/>
<line x1="964.2" y1="1014.8" x2="964.2" y2="1019" stroke="#333" stroke-width="1.5"/>
<rect x="951.4" y="862.8" width="25.6" height="152" fill="#F3CFA9" stroke="#333" stroke-width="1.6"/>
<line x1="951.4" y1="964.3" x2="977" y2="964.3" stroke="#333" stroke-width="3"/>
<line x1="1016.55" y1="908.3" x2="1016.55" y2="971.6" stroke="#333" stroke-width="1.5"/>
<line x1="1016.55" y1="1026.5" x2="1016.55" y2="1035.6" stroke="#333" stroke-width="1.5"/>
<rect x="1003.6" y="971.6" width="25.9" height="54.9" fill="#BC3C29" stroke="#333" stroke-width="1.6"/>
<line x1="1003.6" y1="991.1" x2="1029.5" y2="991.1" stroke="#333" stroke-width="3"/>
<line x1="1063.4" y1="961.8" x2="1063.4" y2="986.3" stroke="#333" stroke-width="1.5"/>
<line x1="1063.4" y1="1029.5" x2="1063.4" y2="1046.9" stroke="#333" stroke-width="1.5"/>
<rect x="1050.5" y="986.3" width="25.8" height="43.2" fill="#E4B1A9" stroke="#333" stroke-width="1.6"/>
<line x1="1050.5" y1="1010.7" x2="1076.3" y2="1010.7" stroke="#333" stroke-width="3"/>
<line x1="1122.8" y1="1016.7" x2="1122.8" y2="1023.8" stroke="#333" stroke-width="1.5"/>
<line x1="1122.8" y1="1040.1" x2="1122.8" y2="1043" stroke="#333" stroke-width="1.5"/>
<rect x="1110" y="1023.8" width="25.6" height="16.3" fill="#20854E" stroke="#333" stroke-width="1.6"/>
<line x1="1110" y1="1030.3" x2="1135.6" y2="1030.3" stroke="#333" stroke-width="3"/>
<line x1="1169.35" y1="916.6" x2="1169.35" y2="961.3" stroke="#333" stroke-width="1.5"/>
<line x1="1169.35" y1="1037.5" x2="1169.35" y2="1046.9" stroke="#333" stroke-width="1.5"/>
<rect x="1156.7" y="961.3" width="25.3" height="76.2" fill="#A6CEB8" stroke="#333" stroke-width="1.6"/>
<line x1="1156.7" y1="1003.6" x2="1182" y2="1003.6" stroke="#333" stroke-width="3"/>
<circle cx="819.7" cy="947.5" r="2.6" fill="none" stroke="#000" stroke-width="1.2"/>
<circle cx="825.8" cy="963.6" r="2.6" fill="none" stroke="#000" stroke-width="1.2"/>
<circle cx="821.2" cy="966" r="2.6" fill="none" stroke="#000" stroke-width="1.2"/>
<circle cx="823.4" cy="982.6" r="2.6" fill="none" stroke="#000" stroke-width="1.2"/>
<circle cx="824.9" cy="1015.7" r="2.6" fill="none" stroke="#000" stroke-width="1.2"/>
<circle cx="820.4" cy="1046.1" r="2.6" fill="none" stroke="#000" stroke-width="1.2"/>
<circle cx="918.3" cy="943" r="2.6" fill="none" stroke="#000" stroke-width="1.2"/>
<circle cx="915.7" cy="953.5" r="2.6" fill="none" stroke="#000" stroke-width="1.2"/>
<circle cx="915" cy="977.6" r="2.6" fill="none" stroke="#000" stroke-width="1.2"/>
<circle cx="914.2" cy="1007.7" r="2.6" fill="none" stroke="#000" stroke-width="1.2"/>
<circle cx="917.5" cy="1008.5" r="2.6" fill="none" stroke="#000" stroke-width="1.2"/>
<circle cx="918.7" cy="1009.2" r="2.6" fill="none" stroke="#000" stroke-width="1.2"/>
<circle cx="917.2" cy="1021.3" r="2.6" fill="none" stroke="#000" stroke-width="1.2"/>
<circle cx="920.3" cy="1026.5" r="2.6" fill="none" stroke="#000" stroke-width="1.2"/>
<circle cx="1019.4" cy="908.3" r="2.6" fill="none" stroke="#000" stroke-width="1.2"/>
<circle cx="1019.7" cy="968.1" r="2.6" fill="none" stroke="#000" stroke-width="1.2"/>
<circle cx="1017.1" cy="969.6" r="2.6" fill="none" stroke="#000" stroke-width="1.2"/>
<circle cx="1013.3" cy="972.6" r="2.6" fill="none" stroke="#000" stroke-width="1.2"/>
<circle cx="1019.1" cy="982.9" r="2.6" fill="none" stroke="#000" stroke-width="1.2"/>
<circle cx="1019.6" cy="983.2" r="2.6" fill="none" stroke="#000" stroke-width="1.2"/>
<circle cx="1013.3" cy="999.4" r="2.6" fill="none" stroke="#000" stroke-width="1.2"/>
<circle cx="1018.6" cy="1002.4" r="2.6" fill="none" stroke="#000" stroke-width="1.2"/>
<circle cx="1014.1" cy="1005.7" r="2.6" fill="none" stroke="#000" stroke-width="1.2"/>
<circle cx="1014.1" cy="1025" r="2.6" fill="none" stroke="#000" stroke-width="1.2"/>
<circle cx="1019.4" cy="1028" r="2.6" fill="none" stroke="#000" stroke-width="1.2"/>
<circle cx="1016.4" cy="1028.8" r="2.6" fill="none" stroke="#000" stroke-width="1.2"/>
<circle cx="1015.3" cy="1035.6" r="2.6" fill="none" stroke="#000" stroke-width="1.2"/>
<circle cx="1122.2" cy="979.1" r="2.6" fill="none" stroke="#000" stroke-width="1.2"/>
<circle cx="1124.5" cy="1016.7" r="2.6" fill="none" stroke="#000" stroke-width="1.2"/>
<circle cx="1122.5" cy="1023.5" r="2.6" fill="none" stroke="#000" stroke-width="1.2"/>
<circle cx="1126.3" cy="1025.5" r="2.6" fill="none" stroke="#000" stroke-width="1.2"/>
<circle cx="1125.2" cy="1034" r="2.6" fill="none" stroke="#000" stroke-width="1.2"/>
<circle cx="1124.8" cy="1039" r="2.6" fill="none" stroke="#000" stroke-width="1.2"/>
<circle cx="1120.5" cy="1041.5" r="2.6" fill="none" stroke="#000" stroke-width="1.2"/>
<circle cx="1118.8" cy="1042.3" r="2.6" fill="none" stroke="#000" stroke-width="1.2"/>
<circle cx="1012.5" cy="745" r="2.6" fill="none" stroke="#000" stroke-width="1.2"/>
<polygon points="865.3,964.27 861.55,970.77 869.05,970.77" fill="none" stroke="#000" stroke-width="1.1" stroke-linejoin="round" opacity="0.45"/>
<polygon points="865.6,1010.17 861.85,1016.67 869.35,1016.67" fill="none" stroke="#000" stroke-width="1.1" stroke-linejoin="round" opacity="0.45"/>
<polygon points="865.6,1015.47 861.85,1021.97 869.35,1021.97" fill="none" stroke="#000" stroke-width="1.1" stroke-linejoin="round" opacity="0.45"/>
<polygon points="870.6,1022.97 866.85,1029.47 874.35,1029.47" fill="none" stroke="#000" stroke-width="1.1" stroke-linejoin="round" opacity="0.45"/>
<polygon points="872.1,1029.67 868.35,1036.17 875.85,1036.17" fill="none" stroke="#000" stroke-width="1.1" stroke-linejoin="round" opacity="0.45"/>
<polygon points="866,1036.47 862.25,1042.97 869.75,1042.97" fill="none" stroke="#000" stroke-width="1.1" stroke-linejoin="round" opacity="0.45"/>
<polygon points="869.8,1036.47 866.05,1042.97 873.55,1042.97" fill="none" stroke="#000" stroke-width="1.1" stroke-linejoin="round" opacity="0.45"/>
<polygon points="965.4,784.27 961.65,790.77 969.15,790.77" fill="none" stroke="#000" stroke-width="1.1" stroke-linejoin="round" opacity="0.45"/>
<polygon points="968.4,845.67 964.65,852.17 972.15,852.17" fill="none" stroke="#000" stroke-width="1.1" stroke-linejoin="round" opacity="0.45"/>
<polygon points="963.9,862.27 960.15,868.77 967.65,868.77" fill="none" stroke="#000" stroke-width="1.1" stroke-linejoin="round" opacity="0.45"/>
<polygon points="965.1,945.07 961.35,951.57 968.85,951.57" fill="none" stroke="#000" stroke-width="1.1" stroke-linejoin="round" opacity="0.45"/>
<polygon points="966.2,973.67 962.45,980.17 969.95,980.17" fill="none" stroke="#000" stroke-width="1.1" stroke-linejoin="round" opacity="0.45"/>
<polygon points="962.7,1007.47 958.95,1013.97 966.45,1013.97" fill="none" stroke="#000" stroke-width="1.1" stroke-linejoin="round" opacity="0.45"/>
<polygon points="962.4,1013.17 958.65,1019.67 966.15,1019.67" fill="none" stroke="#000" stroke-width="1.1" stroke-linejoin="round" opacity="0.45"/>
<polygon points="964.2,1014.67 960.45,1021.17 967.95,1021.17" fill="none" stroke="#000" stroke-width="1.1" stroke-linejoin="round" opacity="0.45"/>
<polygon points="1066,874.67 1062.25,881.17 1069.75,881.17" fill="none" stroke="#000" stroke-width="1.1" stroke-linejoin="round" opacity="0.45"/>
<polygon points="1060,895.67 1056.25,902.17 1063.75,902.17" fill="none" stroke="#000" stroke-width="1.1" stroke-linejoin="round" opacity="0.45"/>
<polygon points="1061.5,900.97 1057.75,907.47 1065.25,907.47" fill="none" stroke="#000" stroke-width="1.1" stroke-linejoin="round" opacity="0.45"/>
<polygon points="1059.3,955.17 1055.55,961.67 1063.05,961.67" fill="none" stroke="#000" stroke-width="1.1" stroke-linejoin="round" opacity="0.45"/>
<polygon points="1059.5,679.67 1055.75,686.17 1063.25,686.17" fill="none" stroke="#000" stroke-width="1.1" stroke-linejoin="round" opacity="0.45"/>
<polygon points="1167.4,910.77 1163.65,917.27 1171.15,917.27" fill="none" stroke="#000" stroke-width="1.1" stroke-linejoin="round" opacity="0.45"/>
<polygon points="1165.4,918.27 1161.65,924.77 1169.15,924.77" fill="none" stroke="#000" stroke-width="1.1" stroke-linejoin="round" opacity="0.45"/>
<polygon points="1170.4,946.17 1166.65,952.67 1174.15,952.67" fill="none" stroke="#000" stroke-width="1.1" stroke-linejoin="round" opacity="0.45"/>
<polygon points="1171.4,952.97 1167.65,959.47 1175.15,959.47" fill="none" stroke="#000" stroke-width="1.1" stroke-linejoin="round" opacity="0.45"/>
<polygon points="1169.2,967.27 1165.45,973.77 1172.95,973.77" fill="none" stroke="#000" stroke-width="1.1" stroke-linejoin="round" opacity="0.45"/>
<polygon points="1168.4,982.27 1164.65,988.77 1172.15,988.77" fill="none" stroke="#000" stroke-width="1.1" stroke-linejoin="round" opacity="0.45"/>
<polygon points="1166.2,989.87 1162.45,996.37 1169.95,996.37" fill="none" stroke="#000" stroke-width="1.1" stroke-linejoin="round" opacity="0.45"/>
<polygon points="1169.5,996.27 1165.75,1002.77 1173.25,1002.77" fill="none" stroke="#000" stroke-width="1.1" stroke-linejoin="round" opacity="0.45"/>
<polygon points="1165.4,1001.37 1161.65,1007.87 1169.15,1007.87" fill="none" stroke="#000" stroke-width="1.1" stroke-linejoin="round" opacity="0.45"/>
<polygon points="1173.4,1008.67 1169.65,1015.17 1177.15,1015.17" fill="none" stroke="#000" stroke-width="1.1" stroke-linejoin="round" opacity="0.45"/>
<polygon points="1172.2,1011.67 1168.45,1018.17 1175.95,1018.17" fill="none" stroke="#000" stroke-width="1.1" stroke-linejoin="round" opacity="0.45"/>
<polygon points="1169.2,1031.57 1165.45,1038.07 1172.95,1038.07" fill="none" stroke="#000" stroke-width="1.1" stroke-linejoin="round" opacity="0.45"/>
<polygon points="1173,1031.27 1169.25,1037.77 1176.75,1037.77" fill="none" stroke="#000" stroke-width="1.1" stroke-linejoin="round" opacity="0.45"/>
<polygon points="1166.2,1038.67 1162.45,1045.17 1169.95,1045.17" fill="none" stroke="#000" stroke-width="1.1" stroke-linejoin="round" opacity="0.45"/>
<polygon points="1169.2,1040.27 1165.45,1046.77 1172.95,1046.77" fill="none" stroke="#000" stroke-width="1.1" stroke-linejoin="round" opacity="0.45"/>
<polygon points="1170.7,1039.47 1166.95,1045.97 1174.45,1045.97" fill="none" stroke="#000" stroke-width="1.1" stroke-linejoin="round" opacity="0.45"/>
<polygon points="1170,748.67 1166.25,755.17 1173.75,755.17" fill="none" stroke="#000" stroke-width="1.1" stroke-linejoin="round" opacity="0.45"/>
<polygon points="1060.14,964.81 1056.39,971.31 1063.89,971.31" fill="none" stroke="#000" stroke-width="1.1" stroke-linejoin="round" opacity="0.45"/>
<polygon points="1059.37,969.93 1055.62,976.43 1063.12,976.43" fill="none" stroke="#000" stroke-width="1.1" stroke-linejoin="round" opacity="0.45"/>
<polygon points="1060.06,956.68 1056.31,963.17 1063.81,963.17" fill="none" stroke="#000" stroke-width="1.1" stroke-linejoin="round" opacity="0.45"/>
<polygon points="1061.55,960.63 1057.8,967.12 1065.3,967.12" fill="none" stroke="#000" stroke-width="1.1" stroke-linejoin="round" opacity="0.45"/>
<polygon points="1065.12,957.66 1061.37,964.16 1068.87,964.16" fill="none" stroke="#000" stroke-width="1.1" stroke-linejoin="round" opacity="0.45"/>
<polygon points="1060.04,980.62 1056.29,987.11 1063.79,987.11" fill="none" stroke="#000" stroke-width="1.1" stroke-linejoin="round" opacity="0.45"/>
<polygon points="1061.43,966.51 1057.68,973 1065.18,973" fill="none" stroke="#000" stroke-width="1.1" stroke-linejoin="round" opacity="0.45"/>
<polygon points="1059.86,970.87 1056.11,977.37 1063.61,977.37" fill="none" stroke="#000" stroke-width="1.1" stroke-linejoin="round" opacity="0.45"/>
<polygon points="1065.95,989.78 1062.2,996.27 1069.7,996.27" fill="none" stroke="#000" stroke-width="1.1" stroke-linejoin="round" opacity="0.45"/>
<polygon points="1062.39,974.84 1058.64,981.34 1066.14,981.34" fill="none" stroke="#000" stroke-width="1.1" stroke-linejoin="round" opacity="0.45"/>
<polygon points="1059.72,960.02 1055.97,966.51 1063.47,966.51" fill="none" stroke="#000" stroke-width="1.1" stroke-linejoin="round" opacity="0.45"/>
<polygon points="1060.85,970.03 1057.1,976.53 1064.6,976.53" fill="none" stroke="#000" stroke-width="1.1" stroke-linejoin="round" opacity="0.45"/>
<polygon points="1060.13,989 1056.38,995.49 1063.88,995.49" fill="none" stroke="#000" stroke-width="1.1" stroke-linejoin="round" opacity="0.45"/>
<polygon points="1065.66,957.57 1061.91,964.07 1069.41,964.07" fill="none" stroke="#000" stroke-width="1.1" stroke-linejoin="round" opacity="0.45"/>
<polygon points="1060.03,977.27 1056.28,983.77 1063.78,983.77" fill="none" stroke="#000" stroke-width="1.1" stroke-linejoin="round" opacity="0.45"/>
<polygon points="1059.19,977.85 1055.44,984.35 1062.94,984.35" fill="none" stroke="#000" stroke-width="1.1" stroke-linejoin="round" opacity="0.45"/>
<polygon points="1065.85,977.27 1062.1,983.76 1069.6,983.76" fill="none" stroke="#000" stroke-width="1.1" stroke-linejoin="round" opacity="0.45"/>
<polygon points="1063.87,990.34 1060.12,996.83 1067.62,996.83" fill="none" stroke="#000" stroke-width="1.1" stroke-linejoin="round" opacity="0.45"/>
<polygon points="1061.57,966.85 1057.82,973.35 1065.32,973.35" fill="none" stroke="#000" stroke-width="1.1" stroke-linejoin="round" opacity="0.45"/>
<polygon points="1064.4,963.18 1060.65,969.68 1068.15,969.68" fill="none" stroke="#000" stroke-width="1.1" stroke-linejoin="round" opacity="0.45"/>
<polygon points="1064.45,977.44 1060.7,983.94 1068.2,983.94" fill="none" stroke="#000" stroke-width="1.1" stroke-linejoin="round" opacity="0.45"/>
<polygon points="1060.56,969.53 1056.81,976.02 1064.31,976.02" fill="none" stroke="#000" stroke-width="1.1" stroke-linejoin="round" opacity="0.45"/>
<polygon points="1065.89,988.32 1062.14,994.81 1069.64,994.81" fill="none" stroke="#000" stroke-width="1.1" stroke-linejoin="round" opacity="0.45"/>
<polygon points="1064.64,989.92 1060.89,996.42 1068.39,996.42" fill="none" stroke="#000" stroke-width="1.1" stroke-linejoin="round" opacity="0.45"/>
<polygon points="1064.18,988.58 1060.43,995.08 1067.93,995.08" fill="none" stroke="#000" stroke-width="1.1" stroke-linejoin="round" opacity="0.45"/>
<polygon points="1062.62,965.51 1058.87,972.01 1066.37,972.01" fill="none" stroke="#000" stroke-width="1.1" stroke-linejoin="round" opacity="0.45"/>
<polygon points="1059.2,970.54 1055.45,977.03 1062.95,977.03" fill="none" stroke="#000" stroke-width="1.1" stroke-linejoin="round" opacity="0.45"/>
<polygon points="1060.96,957.76 1057.21,964.25 1064.71,964.25" fill="none" stroke="#000" stroke-width="1.1" stroke-linejoin="round" opacity="0.45"/>
<polygon points="1063.85,966.78 1060.1,973.27 1067.6,973.27" fill="none" stroke="#000" stroke-width="1.1" stroke-linejoin="round" opacity="0.45"/>
<polygon points="1062.13,993.97 1058.38,1000.47 1065.88,1000.47" fill="none" stroke="#000" stroke-width="1.1" stroke-linejoin="round" opacity="0.45"/>
<polygon points="1066.9,1038.46 1063.15,1044.95 1070.65,1044.95" fill="none" stroke="#000" stroke-width="1.1" stroke-linejoin="round" opacity="0.45"/>
<polygon points="1061.92,1039.37 1058.17,1045.87 1065.67,1045.87" fill="none" stroke="#000" stroke-width="1.1" stroke-linejoin="round" opacity="0.45"/>
<polygon points="1060.81,1001.91 1057.06,1008.41 1064.56,1008.41" fill="none" stroke="#000" stroke-width="1.1" stroke-linejoin="round" opacity="0.45"/>
<polygon points="1060.63,1000.7 1056.88,1007.2 1064.38,1007.2" fill="none" stroke="#000" stroke-width="1.1" stroke-linejoin="round" opacity="0.45"/>
<polygon points="1066.2,1022.5 1062.45,1028.99 1069.95,1028.99" fill="none" stroke="#000" stroke-width="1.1" stroke-linejoin="round" opacity="0.45"/>
<polygon points="1062.84,1033.53 1059.09,1040.03 1066.59,1040.03" fill="none" stroke="#000" stroke-width="1.1" stroke-linejoin="round" opacity="0.45"/>
<polygon points="1065.4,1023.97 1061.65,1030.47 1069.15,1030.47" fill="none" stroke="#000" stroke-width="1.1" stroke-linejoin="round" opacity="0.45"/>
<polygon points="1064.28,994.99 1060.53,1001.49 1068.03,1001.49" fill="none" stroke="#000" stroke-width="1.1" stroke-linejoin="round" opacity="0.45"/>
<polygon points="1065.26,1037.07 1061.51,1043.56 1069.01,1043.56" fill="none" stroke="#000" stroke-width="1.1" stroke-linejoin="round" opacity="0.45"/>
<polygon points="1062.82,1028.93 1059.07,1035.42 1066.57,1035.42" fill="none" stroke="#000" stroke-width="1.1" stroke-linejoin="round" opacity="0.45"/>
<polygon points="1065.31,999.77 1061.56,1006.27 1069.06,1006.27" fill="none" stroke="#000" stroke-width="1.1" stroke-linejoin="round" opacity="0.45"/>
<polygon points="1065.41,1007.63 1061.66,1014.12 1069.16,1014.12" fill="none" stroke="#000" stroke-width="1.1" stroke-linejoin="round" opacity="0.45"/>
<polygon points="1062.17,1040.22 1058.42,1046.72 1065.92,1046.72" fill="none" stroke="#000" stroke-width="1.1" stroke-linejoin="round" opacity="0.45"/>
<polygon points="1066.57,1011.14 1062.82,1017.64 1070.32,1017.64" fill="none" stroke="#000" stroke-width="1.1" stroke-linejoin="round" opacity="0.45"/>
<polygon points="1060.36,1027.63 1056.61,1034.13 1064.11,1034.13" fill="none" stroke="#000" stroke-width="1.1" stroke-linejoin="round" opacity="0.45"/>
<polygon points="1060.21,997.15 1056.46,1003.64 1063.96,1003.64" fill="none" stroke="#000" stroke-width="1.1" stroke-linejoin="round" opacity="0.45"/>
<polygon points="1065.45,1036.82 1061.7,1043.31 1069.2,1043.31" fill="none" stroke="#000" stroke-width="1.1" stroke-linejoin="round" opacity="0.45"/>
<polygon points="1065.61,998.12 1061.86,1004.62 1069.36,1004.62" fill="none" stroke="#000" stroke-width="1.1" stroke-linejoin="round" opacity="0.45"/>
<polygon points="1064.26,1040.67 1060.51,1047.16 1068.01,1047.16" fill="none" stroke="#000" stroke-width="1.1" stroke-linejoin="round" opacity="0.45"/>
<polygon points="1063.39,1008.54 1059.64,1015.04 1067.14,1015.04" fill="none" stroke="#000" stroke-width="1.1" stroke-linejoin="round" opacity="0.45"/>
<polygon points="1059.11,997.35 1055.36,1003.85 1062.86,1003.85" fill="none" stroke="#000" stroke-width="1.1" stroke-linejoin="round" opacity="0.45"/>
<polygon points="1064.2,1040.19 1060.45,1046.68 1067.95,1046.68" fill="none" stroke="#000" stroke-width="1.1" stroke-linejoin="round" opacity="0.45"/>
<polygon points="1066.47,1017.53 1062.72,1024.02 1070.22,1024.02" fill="none" stroke="#000" stroke-width="1.1" stroke-linejoin="round" opacity="0.45"/>
<polygon points="1065.97,1012.79 1062.22,1019.29 1069.72,1019.29" fill="none" stroke="#000" stroke-width="1.1" stroke-linejoin="round" opacity="0.45"/>
<polygon points="1060.69,1032.8 1056.94,1039.3 1064.44,1039.3" fill="none" stroke="#000" stroke-width="1.1" stroke-linejoin="round" opacity="0.45"/>
<polygon points="1061.34,1003.51 1057.59,1010.01 1065.09,1010.01" fill="none" stroke="#000" stroke-width="1.1" stroke-linejoin="round" opacity="0.45"/>
<polygon points="1063.69,1002.94 1059.94,1009.43 1067.44,1009.43" fill="none" stroke="#000" stroke-width="1.1" stroke-linejoin="round" opacity="0.45"/>
<polygon points="1062.35,1003.9 1058.6,1010.39 1066.1,1010.39" fill="none" stroke="#000" stroke-width="1.1" stroke-linejoin="round" opacity="0.45"/>
<polygon points="1066.28,997.35 1062.53,1003.85 1070.03,1003.85" fill="none" stroke="#000" stroke-width="1.1" stroke-linejoin="round" opacity="0.45"/>
<polygon points="1062.67,1008.71 1058.92,1015.21 1066.42,1015.21" fill="none" stroke="#000" stroke-width="1.1" stroke-linejoin="round" opacity="0.45"/>
<polygon points="1066.23,1020.42 1062.48,1026.92 1069.98,1026.92" fill="none" stroke="#000" stroke-width="1.1" stroke-linejoin="round" opacity="0.45"/>
<polygon points="1066.34,1012.12 1062.59,1018.62 1070.09,1018.62" fill="none" stroke="#000" stroke-width="1.1" stroke-linejoin="round" opacity="0.45"/>
<polygon points="1063.25,1016.25 1059.5,1022.75 1067,1022.75" fill="none" stroke="#000" stroke-width="1.1" stroke-linejoin="round" opacity="0.45"/>
<polygon points="1059.15,1017.37 1055.4,1023.86 1062.9,1023.86" fill="none" stroke="#000" stroke-width="1.1" stroke-linejoin="round" opacity="0.45"/>
<polygon points="1060.46,1013.12 1056.71,1019.61 1064.21,1019.61" fill="none" stroke="#000" stroke-width="1.1" stroke-linejoin="round" opacity="0.45"/>
<polygon points="1065.39,990.87 1061.64,997.37 1069.14,997.37" fill="none" stroke="#000" stroke-width="1.1" stroke-linejoin="round" opacity="0.45"/>
<polygon points="1062.79,999.46 1059.04,1005.95 1066.54,1005.95" fill="none" stroke="#000" stroke-width="1.1" stroke-linejoin="round" opacity="0.45"/>
<polygon points="1063.45,1027.65 1059.7,1034.15 1067.2,1034.15" fill="none" stroke="#000" stroke-width="1.1" stroke-linejoin="round" opacity="0.45"/>
<polygon points="1063.15,1007.29 1059.4,1013.79 1066.9,1013.79" fill="none" stroke="#000" stroke-width="1.1" stroke-linejoin="round" opacity="0.45"/>
<polygon points="1065.27,1019 1061.52,1025.49 1069.02,1025.49" fill="none" stroke="#000" stroke-width="1.1" stroke-linejoin="round" opacity="0.45"/>
<polygon points="1063.48,996.08 1059.73,1002.58 1067.23,1002.58" fill="none" stroke="#000" stroke-width="1.1" stroke-linejoin="round" opacity="0.45"/>
<polygon points="1061.22,1003.34 1057.47,1009.84 1064.97,1009.84" fill="none" stroke="#000" stroke-width="1.1" stroke-linejoin="round" opacity="0.45"/>
<polygon points="1063.06,1030.06 1059.31,1036.55 1066.81,1036.55" fill="none" stroke="#000" stroke-width="1.1" stroke-linejoin="round" opacity="0.45"/>
<polygon points="1065.08,1019.32 1061.33,1025.81 1068.83,1025.81" fill="none" stroke="#000" stroke-width="1.1" stroke-linejoin="round" opacity="0.45"/>
<polygon points="1062.55,1037.21 1058.8,1043.7 1066.3,1043.7" fill="none" stroke="#000" stroke-width="1.1" stroke-linejoin="round" opacity="0.45"/>
<polygon points="1063.04,1021.91 1059.29,1028.4 1066.79,1028.4" fill="none" stroke="#000" stroke-width="1.1" stroke-linejoin="round" opacity="0.45"/>
<polygon points="1064.54,1016.79 1060.79,1023.29 1068.29,1023.29" fill="none" stroke="#000" stroke-width="1.1" stroke-linejoin="round" opacity="0.45"/>
<polygon points="1063.27,1013.74 1059.52,1020.23 1067.02,1020.23" fill="none" stroke="#000" stroke-width="1.1" stroke-linejoin="round" opacity="0.45"/>
<polygon points="1066.53,1015.05 1062.78,1021.54 1070.28,1021.54" fill="none" stroke="#000" stroke-width="1.1" stroke-linejoin="round" opacity="0.45"/>
<polygon points="1066.01,1026.33 1062.26,1032.83 1069.76,1032.83" fill="none" stroke="#000" stroke-width="1.1" stroke-linejoin="round" opacity="0.45"/>
<polygon points="1061.08,1038.72 1057.33,1045.22 1064.83,1045.22" fill="none" stroke="#000" stroke-width="1.1" stroke-linejoin="round" opacity="0.45"/>
<polygon points="1066.55,1019.21 1062.8,1025.7 1070.3,1025.7" fill="none" stroke="#000" stroke-width="1.1" stroke-linejoin="round" opacity="0.45"/>
<polygon points="1060.1,1033.51 1056.35,1040.01 1063.85,1040.01" fill="none" stroke="#000" stroke-width="1.1" stroke-linejoin="round" opacity="0.45"/>
<polygon points="1062.54,996.87 1058.79,1003.37 1066.29,1003.37" fill="none" stroke="#000" stroke-width="1.1" stroke-linejoin="round" opacity="0.45"/>
<polygon points="1060.93,994.37 1057.18,1000.86 1064.68,1000.86" fill="none" stroke="#000" stroke-width="1.1" stroke-linejoin="round" opacity="0.45"/>
<polygon points="1064.36,994.4 1060.61,1000.89 1068.11,1000.89" fill="none" stroke="#000" stroke-width="1.1" stroke-linejoin="round" opacity="0.45"/>
<polygon points="1066.18,1030.65 1062.43,1037.15 1069.93,1037.15" fill="none" stroke="#000" stroke-width="1.1" stroke-linejoin="round" opacity="0.45"/>
<polygon points="1064.73,998.55 1060.98,1005.04 1068.48,1005.04" fill="none" stroke="#000" stroke-width="1.1" stroke-linejoin="round" opacity="0.45"/>
<polygon points="1060.14,1024.34 1056.39,1030.84 1063.89,1030.84" fill="none" stroke="#000" stroke-width="1.1" stroke-linejoin="round" opacity="0.45"/>
<polygon points="1066.74,1035.69 1062.99,1042.19 1070.49,1042.19" fill="none" stroke="#000" stroke-width="1.1" stroke-linejoin="round" opacity="0.45"/>
<polygon points="1066.62,1001.87 1062.87,1008.36 1070.37,1008.36" fill="none" stroke="#000" stroke-width="1.1" stroke-linejoin="round" opacity="0.45"/>
<polygon points="1062.9,1010.98 1059.15,1017.48 1066.65,1017.48" fill="none" stroke="#000" stroke-width="1.1" stroke-linejoin="round" opacity="0.45"/>
<polygon points="1065.66,1041.15 1061.91,1047.65 1069.41,1047.65" fill="none" stroke="#000" stroke-width="1.1" stroke-linejoin="round" opacity="0.45"/>
<polygon points="1062.45,998.9 1058.7,1005.4 1066.2,1005.4" fill="none" stroke="#000" stroke-width="1.1" stroke-linejoin="round" opacity="0.45"/>
<polygon points="1061.71,1016.97 1057.96,1023.46 1065.46,1023.46" fill="none" stroke="#000" stroke-width="1.1" stroke-linejoin="round" opacity="0.45"/>
<polygon points="1061.55,1000.65 1057.8,1007.15 1065.3,1007.15" fill="none" stroke="#000" stroke-width="1.1" stroke-linejoin="round" opacity="0.45"/>
<polygon points="1059.16,1027.5 1055.41,1033.99 1062.91,1033.99" fill="none" stroke="#000" stroke-width="1.1" stroke-linejoin="round" opacity="0.45"/>
<polygon points="1062.52,1018.93 1058.77,1025.42 1066.27,1025.42" fill="none" stroke="#000" stroke-width="1.1" stroke-linejoin="round" opacity="0.45"/>
<polygon points="1061.65,991.59 1057.9,998.09 1065.4,998.09" fill="none" stroke="#000" stroke-width="1.1" stroke-linejoin="round" opacity="0.45"/>
<polygon points="1063.1,1022.49 1059.35,1028.99 1066.85,1028.99" fill="none" stroke="#000" stroke-width="1.1" stroke-linejoin="round" opacity="0.45"/>
<polygon points="1066.88,993.95 1063.13,1000.44 1070.63,1000.44" fill="none" stroke="#000" stroke-width="1.1" stroke-linejoin="round" opacity="0.45"/>
<polygon points="1066.77,1030.88 1063.02,1037.37 1070.52,1037.37" fill="none" stroke="#000" stroke-width="1.1" stroke-linejoin="round" opacity="0.45"/>
<polygon points="1061.12,996.01 1057.37,1002.51 1064.87,1002.51" fill="none" stroke="#000" stroke-width="1.1" stroke-linejoin="round" opacity="0.45"/>
<polygon points="1065.23,992.69 1061.48,999.18 1068.98,999.18" fill="none" stroke="#000" stroke-width="1.1" stroke-linejoin="round" opacity="0.45"/>
<polygon points="1060.04,1004.46 1056.29,1010.96 1063.79,1010.96" fill="none" stroke="#000" stroke-width="1.1" stroke-linejoin="round" opacity="0.45"/>
<polygon points="1066.29,1012.2 1062.54,1018.7 1070.04,1018.7" fill="none" stroke="#000" stroke-width="1.1" stroke-linejoin="round" opacity="0.45"/>
<polygon points="1061.07,1032.44 1057.32,1038.93 1064.82,1038.93" fill="none" stroke="#000" stroke-width="1.1" stroke-linejoin="round" opacity="0.45"/>
<polygon points="1066.35,998.29 1062.6,1004.78 1070.1,1004.78" fill="none" stroke="#000" stroke-width="1.1" stroke-linejoin="round" opacity="0.45"/>
<polygon points="1064.6,1019.77 1060.85,1026.27 1068.35,1026.27" fill="none" stroke="#000" stroke-width="1.1" stroke-linejoin="round" opacity="0.45"/>
<polygon points="1059.46,995.23 1055.71,1001.73 1063.21,1001.73" fill="none" stroke="#000" stroke-width="1.1" stroke-linejoin="round" opacity="0.45"/>
<line x1="789" y1="618" x2="789" y2="1047.5" stroke="#000" stroke-width="1.6"/>
<line x1="788.2" y1="1046.7" x2="1220" y2="1046.7" stroke="#000" stroke-width="1.6"/>
<line x1="784" y1="940.6" x2="789" y2="940.6" stroke="#333" stroke-width="1"/>
<text x="781" y="949.24" font-size="24" text-anchor="end">2500</text>
<line x1="784" y1="833.6" x2="789" y2="833.6" stroke="#333" stroke-width="1"/>
<text x="781" y="842.24" font-size="24" text-anchor="end">5000</text>
<line x1="784" y1="726.6" x2="789" y2="726.6" stroke="#333" stroke-width="1"/>
<text x="781" y="735.24" font-size="24" text-anchor="end">7500</text>
<line x1="784" y1="619.6" x2="789" y2="619.6" stroke="#333" stroke-width="1"/>
<text x="781" y="628.24" font-size="24" text-anchor="end">10000</text>
<line x1="845.7" y1="1046.7" x2="845.7" y2="1051.7" stroke="#333" stroke-width="1"/>
<line x1="940.7" y1="1046.7" x2="940.7" y2="1051.7" stroke="#333" stroke-width="1"/>
<line x1="1039.7" y1="1046.7" x2="1039.7" y2="1051.7" stroke="#333" stroke-width="1"/>
<line x1="1145.8" y1="1046.7" x2="1145.8" y2="1051.7" stroke="#333" stroke-width="1"/>
<text transform="translate(860.7 1072.2) rotate(-25)" font-size="25.7" text-anchor="end">NPC</text>
<text transform="translate(952.3 1072.7) rotate(-25)" font-size="25.7" text-anchor="end">OP</text>
<text transform="translate(1061.3 1072.7) rotate(-25)" font-size="25.7" text-anchor="end">SARS−CoV−2−P</text>
<text transform="translate(1156.4 1071.7) rotate(-25)" font-size="25.7" text-anchor="end">OVP</text>
<text transform="translate(713.7 885.5) rotate(-90)" font-size="25.5" text-anchor="middle">Richness (Chao 1)</text>
<line x1="914.4" y1="620.2" x2="1125.4" y2="620.2" stroke="#000" stroke-width="1.3"/>
<text x="1025.5" y="615.3" font-size="25" text-anchor="middle">4.97e−02</text>
<line x1="1013.1" y1="662.6" x2="1125.4" y2="662.6" stroke="#000" stroke-width="1.3"/>
<text x="1069.5" y="658.4" font-size="25" text-anchor="middle">4.97e−02</text>
<line x1="870" y1="705.7" x2="966.6" y2="705.7" stroke="#000" stroke-width="1.3"/>
<text x="917.7" y="701.6" font-size="25" text-anchor="middle">4.97e−02</text>
<text x="1197.3" y="635.4" font-size="25">Diagnosis</text>
<rect x="1203.5" y="654.3" width="15.2" height="16.4" fill="#0072B5"/>
<rect x="1203.5" y="684" width="15.2" height="16.4" fill="#E18727"/>
<rect x="1203.5" y="714" width="15.2" height="16.4" fill="#BC3C29"/>
<rect x="1203.5" y="744.4" width="15.2" height="16.4" fill="#20854E"/>
<text x="1227" y="669.5" font-size="25">NPC</text>
<text x="1227" y="699.6" font-size="25">OP</text>
<text x="1227" y="729.2" font-size="25">SARS−CoV−2−P</text>
<text x="1227" y="760" font-size="25">OVP</text>
<text x="1204.3" y="795" font-size="23.8">Timing of BAL</text>
<text x="1204.3" y="820.9" font-size="23.75">relative to intubation</text>
<rect x="1203.5" y="832.8" width="27.6" height="29.2" fill="none" stroke="#999999" stroke-width="0.9"/>
<rect x="1203.5" y="862" width="27.6" height="30.2" fill="none" stroke="#999999" stroke-width="0.9"/>
<circle cx="1217.3" cy="847.6" r="2.6" fill="none" stroke="#000" stroke-width="1.2"/>
<polygon points="1217.3,872.67 1213.55,879.17 1221.05,879.17" fill="none" stroke="#000" stroke-width="1.2" stroke-linejoin="round"/>
<text x="1238.5" y="854.6" font-size="24">≤ 48hrs</text>
<text x="1238.5" y="884.6" font-size="24">&gt; 48hrs</text>
<text x="1456" y="573" font-size="47.5" font-weight="bold">i</text>
<line x1="1599.9" y1="952" x2="1599.9" y2="975.6" stroke="#333" stroke-width="1.9"/>
<line x1="1599.9" y1="1022.8" x2="1599.9" y2="1048.4" stroke="#333" stroke-width="1.9"/>
<rect x="1588.9" y="975.6" width="22" height="47.2" fill="#7798D1" stroke="#333" stroke-width="2"/>
<line x1="1588.9" y1="1005.4" x2="1610.9" y2="1005.4" stroke="#333" stroke-width="3.3"/>
<line x1="1639.25" y1="969.3" x2="1639.25" y2="1000.5" stroke="#333" stroke-width="1.9"/>
<line x1="1639.25" y1="1045.8" x2="1639.25" y2="1052.1" stroke="#333" stroke-width="1.9"/>
<rect x="1628.5" y="1000.5" width="21.5" height="45.3" fill="#F2744B" stroke="#333" stroke-width="2"/>
<line x1="1628.5" y1="1034.8" x2="1650" y2="1034.8" stroke="#333" stroke-width="3.3"/>
<line x1="1704.9" y1="788.6" x2="1704.9" y2="890.3" stroke="#333" stroke-width="1.9"/>
<line x1="1704.9" y1="1019" x2="1704.9" y2="1027.3" stroke="#333" stroke-width="1.9"/>
<rect x="1694" y="890.3" width="21.8" height="128.7" fill="#7798D1" stroke="#333" stroke-width="2"/>
<line x1="1694" y1="999.4" x2="1715.8" y2="999.4" stroke="#333" stroke-width="3.3"/>
<line x1="1744.45" y1="947.5" x2="1744.45" y2="964.8" stroke="#333" stroke-width="1.9"/>
<line x1="1744.45" y1="1025.8" x2="1744.45" y2="1034" stroke="#333" stroke-width="1.9"/>
<rect x="1733.6" y="964.8" width="21.7" height="61" fill="#F2744B" stroke="#333" stroke-width="2"/>
<line x1="1733.6" y1="999.4" x2="1755.3" y2="999.4" stroke="#333" stroke-width="3.3"/>
<line x1="1809.9" y1="905.9" x2="1809.9" y2="975.1" stroke="#333" stroke-width="1.9"/>
<line x1="1809.9" y1="1035.4" x2="1809.9" y2="1052.4" stroke="#333" stroke-width="1.9"/>
<rect x="1798.7" y="975.1" width="22.4" height="60.3" fill="#7798D1" stroke="#333" stroke-width="2"/>
<line x1="1798.7" y1="1008.9" x2="1821.1" y2="1008.9" stroke="#333" stroke-width="3.3"/>
<line x1="1849.45" y1="973.1" x2="1849.45" y2="1007.3" stroke="#333" stroke-width="1.9"/>
<line x1="1849.45" y1="1035.4" x2="1849.45" y2="1051.4" stroke="#333" stroke-width="1.9"/>
<rect x="1838.2" y="1007.3" width="22.5" height="28.1" fill="#F2744B" stroke="#333" stroke-width="2"/>
<line x1="1838.2" y1="1021.3" x2="1860.7" y2="1021.3" stroke="#333" stroke-width="3.3"/>
<line x1="1914.85" y1="984.2" x2="1914.85" y2="1017.7" stroke="#333" stroke-width="1.9"/>
<line x1="1914.85" y1="1046.4" x2="1914.85" y2="1052.4" stroke="#333" stroke-width="1.9"/>
<rect x="1903.8" y="1017.7" width="22.1" height="28.7" fill="#7798D1" stroke="#333" stroke-width="2"/>
<line x1="1903.8" y1="1033.3" x2="1925.9" y2="1033.3" stroke="#333" stroke-width="3.3"/>
<line x1="1954.35" y1="919.9" x2="1954.35" y2="925.6" stroke="#333" stroke-width="1.9"/>
<line x1="1954.35" y1="995.2" x2="1954.35" y2="1051.4" stroke="#333" stroke-width="1.9"/>
<rect x="1943.6" y="925.6" width="21.5" height="69.6" fill="#F2744B" stroke="#333" stroke-width="2"/>
<line x1="1943.6" y1="959.1" x2="1965.1" y2="959.1" stroke="#333" stroke-width="3.3"/>
<circle cx="1596.6" cy="952" r="3.8" fill="none" stroke="#000" stroke-width="1.5"/>
<circle cx="1604.7" cy="971.3" r="3.8" fill="none" stroke="#000" stroke-width="1.5"/>
<circle cx="1601.1" cy="988.4" r="3.8" fill="none" stroke="#000" stroke-width="1.5"/>
<circle cx="1594.6" cy="1022.8" r="3.8" fill="none" stroke="#000" stroke-width="1.5"/>
<circle cx="1601.4" cy="1022.8" r="3.8" fill="none" stroke="#000" stroke-width="1.5"/>
<circle cx="1597.6" cy="1048.4" r="3.8" fill="none" stroke="#000" stroke-width="1.5"/>
<circle cx="1645.1" cy="968.6" r="3.8" fill="none" stroke="#000" stroke-width="1.5"/>
<circle cx="1641.3" cy="973.8" r="3.8" fill="none" stroke="#000" stroke-width="1.5"/>
<circle cx="1633" cy="1027.3" r="3.8" fill="none" stroke="#000" stroke-width="1.5"/>
<circle cx="1639.5" cy="1034.8" r="3.8" fill="none" stroke="#000" stroke-width="1.5"/>
<circle cx="1642.8" cy="1042.3" r="3.8" fill="none" stroke="#000" stroke-width="1.5"/>
<circle cx="1636.3" cy="1048.4" r="3.8" fill="none" stroke="#000" stroke-width="1.5"/>
<circle cx="1636.3" cy="1052.1" r="3.8" fill="none" stroke="#000" stroke-width="1.5"/>
<circle cx="1699.3" cy="788.6" r="3.8" fill="none" stroke="#000" stroke-width="1.5"/>
<circle cx="1703.8" cy="852.2" r="3.8" fill="none" stroke="#000" stroke-width="1.5"/>
<circle cx="1701.2" cy="869.2" r="3.8" fill="none" stroke="#000" stroke-width="1.5"/>
<circle cx="1705.8" cy="955" r="3.8" fill="none" stroke="#000" stroke-width="1.5"/>
<circle cx="1703.1" cy="984.4" r="3.8" fill="none" stroke="#000" stroke-width="1.5"/>
<circle cx="1709.1" cy="1014.5" r="3.8" fill="none" stroke="#000" stroke-width="1.5"/>
<circle cx="1710.6" cy="1016" r="3.8" fill="none" stroke="#000" stroke-width="1.5"/>
<circle cx="1706" cy="1020.5" r="3.8" fill="none" stroke="#000" stroke-width="1.5"/>
<circle cx="1705.3" cy="1025" r="3.8" fill="none" stroke="#000" stroke-width="1.5"/>
<circle cx="1701.5" cy="1027.3" r="3.8" fill="none" stroke="#000" stroke-width="1.5"/>
<circle cx="1741.1" cy="947.5" r="3.8" fill="none" stroke="#000" stroke-width="1.5"/>
<circle cx="1738.4" cy="958.8" r="3.8" fill="none" stroke="#000" stroke-width="1.5"/>
<circle cx="1741.8" cy="982.9" r="3.8" fill="none" stroke="#000" stroke-width="1.5"/>
<circle cx="1744.8" cy="1016" r="3.8" fill="none" stroke="#000" stroke-width="1.5"/>
<circle cx="1750.5" cy="1028.8" r="3.8" fill="none" stroke="#000" stroke-width="1.5"/>
<circle cx="1740.2" cy="1034" r="3.8" fill="none" stroke="#000" stroke-width="1.5"/>
<circle cx="1807.7" cy="680.7" r="3.8" fill="none" stroke="#000" stroke-width="1.5"/>
<circle cx="1809.5" cy="740.3" r="3.8" fill="none" stroke="#000" stroke-width="1.5"/>
<circle cx="1808.7" cy="881.8" r="3.8" fill="none" stroke="#000" stroke-width="1.5"/>
<circle cx="1804.5" cy="903.3" r="3.8" fill="none" stroke="#000" stroke-width="1.5"/>
<circle cx="1809.1" cy="908.9" r="3.8" fill="none" stroke="#000" stroke-width="1.5"/>
<circle cx="1811.1" cy="911.3" r="3.8" fill="none" stroke="#000" stroke-width="1.5"/>
<circle cx="1810.1" cy="966.1" r="3.8" fill="none" stroke="#000" stroke-width="1.5"/>
<circle cx="1813.1" cy="970.1" r="3.8" fill="none" stroke="#000" stroke-width="1.5"/>
<circle cx="1809.7" cy="974.1" r="3.8" fill="none" stroke="#000" stroke-width="1.5"/>
<circle cx="1816.1" cy="974.1" r="3.8" fill="none" stroke="#000" stroke-width="1.5"/>
<circle cx="1808.1" cy="978.1" r="3.8" fill="none" stroke="#000" stroke-width="1.5"/>
<circle cx="1816.1" cy="983.2" r="3.8" fill="none" stroke="#000" stroke-width="1.5"/>
<circle cx="1805.7" cy="989.2" r="3.8" fill="none" stroke="#000" stroke-width="1.5"/>
<circle cx="1806" cy="989.5" r="3.8" fill="none" stroke="#000" stroke-width="1.5"/>
<circle cx="1810.1" cy="1005.2" r="3.8" fill="none" stroke="#000" stroke-width="1.5"/>
<circle cx="1813.1" cy="1009.3" r="3.8" fill="none" stroke="#000" stroke-width="1.5"/>
<circle cx="1811.1" cy="1013.3" r="3.8" fill="none" stroke="#000" stroke-width="1.5"/>
<circle cx="1804.1" cy="1016.3" r="3.8" fill="none" stroke="#000" stroke-width="1.5"/>
<circle cx="1810.1" cy="1018.3" r="3.8" fill="none" stroke="#000" stroke-width="1.5"/>
<circle cx="1816.1" cy="1018.3" r="3.8" fill="none" stroke="#000" stroke-width="1.5"/>
<circle cx="1803.1" cy="1024.3" r="3.8" fill="none" stroke="#000" stroke-width="1.5"/>
<circle cx="1811.1" cy="1022.3" r="3.8" fill="none" stroke="#000" stroke-width="1.5"/>
<circle cx="1813.1" cy="1035.4" r="3.8" fill="none" stroke="#000" stroke-width="1.5"/>
<circle cx="1805.1" cy="1037.4" r="3.8" fill="none" stroke="#000" stroke-width="1.5"/>
<circle cx="1812.1" cy="1039.4" r="3.8" fill="none" stroke="#000" stroke-width="1.5"/>
<circle cx="1814.1" cy="1043.4" r="3.8" fill="none" stroke="#000" stroke-width="1.5"/>
<circle cx="1810.1" cy="1044.4" r="3.8" fill="none" stroke="#000" stroke-width="1.5"/>
<circle cx="1808.1" cy="1047.4" r="3.8" fill="none" stroke="#000" stroke-width="1.5"/>
<circle cx="1815.1" cy="1045.4" r="3.8" fill="none" stroke="#000" stroke-width="1.5"/>
<circle cx="1805.1" cy="1052.4" r="3.8" fill="none" stroke="#000" stroke-width="1.5"/>
<circle cx="1848.6" cy="973.1" r="3.8" fill="none" stroke="#000" stroke-width="1.5"/>
<circle cx="1846.2" cy="980.2" r="3.8" fill="none" stroke="#000" stroke-width="1.5"/>
<circle cx="1843.8" cy="980.2" r="3.8" fill="none" stroke="#000" stroke-width="1.5"/>
<circle cx="1850.3" cy="981.2" r="3.8" fill="none" stroke="#000" stroke-width="1.5"/>
<circle cx="1843.2" cy="989.2" r="3.8" fill="none" stroke="#000" stroke-width="1.5"/>
<circle cx="1849.2" cy="992.2" r="3.8" fill="none" stroke="#000" stroke-width="1.5"/>
<circle cx="1847.2" cy="995.2" r="3.8" fill="none" stroke="#000" stroke-width="1.5"/>
<circle cx="1846.2" cy="1007.2" r="3.8" fill="none" stroke="#000" stroke-width="1.5"/>
<circle cx="1849.2" cy="1012.3" r="3.8" fill="none" stroke="#000" stroke-width="1.5"/>
<circle cx="1852.3" cy="1011.3" r="3.8" fill="none" stroke="#000" stroke-width="1.5"/>
<circle cx="1846.2" cy="1015.3" r="3.8" fill="none" stroke="#000" stroke-width="1.5"/>
<circle cx="1850.3" cy="1017.3" r="3.8" fill="none" stroke="#000" stroke-width="1.5"/>
<circle cx="1853.3" cy="1019.3" r="3.8" fill="none" stroke="#000" stroke-width="1.5"/>
<circle cx="1848.2" cy="1021.3" r="3.8" fill="none" stroke="#000" stroke-width="1.5"/>
<circle cx="1843.2" cy="1025.3" r="3.8" fill="none" stroke="#000" stroke-width="1.5"/>
<circle cx="1850.3" cy="1027.3" r="3.8" fill="none" stroke="#000" stroke-width="1.5"/>
<circle cx="1846.2" cy="1029.3" r="3.8" fill="none" stroke="#000" stroke-width="1.5"/>
<circle cx="1852.3" cy="1031.3" r="3.8" fill="none" stroke="#000" stroke-width="1.5"/>
<circle cx="1842.2" cy="1035.4" r="3.8" fill="none" stroke="#000" stroke-width="1.5"/>
<circle cx="1851.3" cy="1037.4" r="3.8" fill="none" stroke="#000" stroke-width="1.5"/>
<circle cx="1849.2" cy="1046.4" r="3.8" fill="none" stroke="#000" stroke-width="1.5"/>
<circle cx="1846.2" cy="1048.4" r="3.8" fill="none" stroke="#000" stroke-width="1.5"/>
<circle cx="1844.2" cy="1051.4" r="3.8" fill="none" stroke="#000" stroke-width="1.5"/>
<circle cx="1855.3" cy="1050.4" r="3.8" fill="none" stroke="#000" stroke-width="1.5"/>
<circle cx="1917.5" cy="984.2" r="3.8" fill="none" stroke="#000" stroke-width="1.5"/>
<circle cx="1908.5" cy="993.2" r="3.8" fill="none" stroke="#000" stroke-width="1.5"/>
<circle cx="1911.5" cy="1001.2" r="3.8" fill="none" stroke="#000" stroke-width="1.5"/>
<circle cx="1911.5" cy="1012.3" r="3.8" fill="none" stroke="#000" stroke-width="1.5"/>
<circle cx="1920.5" cy="1009.3" r="3.8" fill="none" stroke="#000" stroke-width="1.5"/>
<circle cx="1914.5" cy="1019.3" r="3.8" fill="none" stroke="#000" stroke-width="1.5"/>
<circle cx="1918.5" cy="1021.3" r="3.8" fill="none" stroke="#000" stroke-width="1.5"/>
<circle cx="1910.5" cy="1024.3" r="3.8" fill="none" stroke="#000" stroke-width="1.5"/>
<circle cx="1916.5" cy="1027.3" r="3.8" fill="none" stroke="#000" stroke-width="1.5"/>
<circle cx="1911.5" cy="1033.3" r="3.8" fill="none" stroke="#000" stroke-width="1.5"/>
<circle cx="1918.5" cy="1033.3" r="3.8" fill="none" stroke="#000" stroke-width="1.5"/>
<circle cx="1920.5" cy="1041.4" r="3.8" fill="none" stroke="#000" stroke-width="1.5"/>
<circle cx="1914.5" cy="1043.4" r="3.8" fill="none" stroke="#000" stroke-width="1.5"/>
<circle cx="1910.5" cy="1048.4" r="3.8" fill="none" stroke="#000" stroke-width="1.5"/>
<circle cx="1920.5" cy="1045.4" r="3.8" fill="none" stroke="#000" stroke-width="1.5"/>
<circle cx="1909.5" cy="1051.4" r="3.8" fill="none" stroke="#000" stroke-width="1.5"/>
<circle cx="1912.5" cy="1052.4" r="3.8" fill="none" stroke="#000" stroke-width="1.5"/>
<circle cx="1955.2" cy="750.7" r="3.8" fill="none" stroke="#000" stroke-width="1.5"/>
<circle cx="1955.6" cy="919.9" r="3.8" fill="none" stroke="#000" stroke-width="1.5"/>
<circle cx="1959.6" cy="927.6" r="3.8" fill="none" stroke="#000" stroke-width="1.5"/>
<circle cx="1957.6" cy="955.1" r="3.8" fill="none" stroke="#000" stroke-width="1.5"/>
<circle cx="1960.6" cy="962.1" r="3.8" fill="none" stroke="#000" stroke-width="1.5"/>
<circle cx="1958.2" cy="977.5" r="3.8" fill="none" stroke="#000" stroke-width="1.5"/>
<circle cx="1959.2" cy="1048.4" r="3.8" fill="none" stroke="#000" stroke-width="1.5"/>
<circle cx="1959.6" cy="1051" r="3.8" fill="none" stroke="#000" stroke-width="1.5"/>
<line x1="1555.5" y1="613.6" x2="1555.5" y2="1055.3" stroke="#000" stroke-width="2"/>
<line x1="1554.5" y1="1054.3" x2="1997.3" y2="1054.3" stroke="#000" stroke-width="2"/>
<line x1="1550.5" y1="945.2" x2="1555.5" y2="945.2" stroke="#333" stroke-width="1.5"/>
<text x="1547.5" y="953.84" font-size="24" text-anchor="end">2500</text>
<line x1="1550.5" y1="835" x2="1555.5" y2="835" stroke="#333" stroke-width="1.5"/>
<text x="1547.5" y="843.64" font-size="24" text-anchor="end">5000</text>
<line x1="1550.5" y1="724.8" x2="1555.5" y2="724.8" stroke="#333" stroke-width="1.5"/>
<text x="1547.5" y="733.44" font-size="24" text-anchor="end">7500</text>
<line x1="1550.5" y1="614.6" x2="1555.5" y2="614.6" stroke="#333" stroke-width="1.5"/>
<text x="1547.5" y="623.24" font-size="24" text-anchor="end">10000</text>
<line x1="1619.5" y1="1054.3" x2="1619.5" y2="1059.3" stroke="#333" stroke-width="1.5"/>
<line x1="1724.4" y1="1054.3" x2="1724.4" y2="1059.3" stroke="#333" stroke-width="1.5"/>
<line x1="1829.4" y1="1054.3" x2="1829.4" y2="1059.3" stroke="#333" stroke-width="1.5"/>
<line x1="1934.6" y1="1054.3" x2="1934.6" y2="1059.3" stroke="#333" stroke-width="1.5"/>
<text transform="translate(1634.5 1081.3) rotate(-25)" font-size="24.8" text-anchor="end">NPC</text>
<text transform="translate(1736 1082.3) rotate(-25)" font-size="24.8" text-anchor="end">OP</text>
<text transform="translate(1945.2 1081.3) rotate(-25)" font-size="24.8" text-anchor="end">OVP</text>
<text transform="translate(1882.6 1077.3) rotate(-25)" font-size="25.6" text-anchor="end">SARS−CoV−2−P</text>
<text transform="translate(1470.5 899.3) rotate(-90)" font-size="25" text-anchor="middle">Richness (Chao 1)</text>
<line x1="1808.3" y1="627.1" x2="1914.2" y2="627.1" stroke="#000" stroke-width="1.8"/>
<text x="1860.2" y="623" font-size="24.5" text-anchor="middle">2.67e−02</text>
<line x1="1702.7" y1="668.9" x2="1914.2" y2="668.9" stroke="#000" stroke-width="1.8"/>
<text x="1807.9" y="664.8" font-size="24.5" text-anchor="middle">2.67e−02</text>
<text x="1974.8" y="630" font-size="24.7">Outcome</text>
<rect x="1980.9" y="649.6" width="17.2" height="17.2" fill="#7798D1"/>
<rect x="1980.9" y="679.9" width="17.2" height="17.6" fill="#F2744B"/>
<text x="2003.4" y="666" font-size="25.3">Discharged</text>
<text x="2003.4" y="695.5" font-size="25.3">Deceased</text>
<text x="12.5" y="1202.3" font-size="47.5" font-weight="bold">j</text>
<text x="301" y="1223" font-size="25.5" text-anchor="middle">SARS-CoV-2-P</text>
<text x="678.2" y="1223" font-size="25.5" text-anchor="middle">Combined NPC, OP and OVP</text>
<circle cx="239.6" cy="1268.9" r="6.6" fill="#DCCBA6" opacity="0.85"/>
<circle cx="268.2" cy="1333.2" r="6.6" fill="#F5C3DE" opacity="0.85"/>
<circle cx="305.5" cy="1484.8" r="6.6" fill="#F6EDA8" opacity="0.85"/>
<circle cx="239.6" cy="1515.1" r="6.6" fill="#DCCBA6" opacity="0.85"/>
<circle cx="301.7" cy="1508.3" r="6.6" fill="#F5C3DE" opacity="0.85"/>
<circle cx="348.7" cy="1516.9" r="6.6" fill="#E9C2AF" opacity="0.85"/>
<polygon points="278,1572.49 269.5,1587.21 286.5,1587.21" fill="#F5C3DE" opacity="0.85"/>
<circle cx="301.7" cy="1582.4" r="6.6" fill="#F5C3DE" opacity="0.85"/>
<circle cx="348.7" cy="1579.7" r="6.6" fill="#E9C2AF" opacity="0.85"/>
<circle cx="348.7" cy="1587.4" r="6.6" fill="#E9C2AF" opacity="0.85"/>
<polygon points="341.2,1580.39 332.7,1595.11 349.7,1595.11" fill="#F6EDA8" opacity="0.85"/>
<polygon points="379.6,1571.29 371.1,1586.01 388.1,1586.01" fill="#F5C3DE" opacity="0.85"/>
<circle cx="401" cy="1574.5" r="6.6" fill="#E9C2AF" opacity="0.85"/>
<circle cx="399.9" cy="1585.3" r="6.6" fill="#DCCBA6" opacity="0.85"/>
<circle cx="399.9" cy="1599.8" r="6.6" fill="#E9C2AF" opacity="0.85"/>
<circle cx="399.9" cy="1616.3" r="6.6" fill="#DCCBA6" opacity="0.85"/>
<circle cx="399.9" cy="1626.4" r="6.6" fill="#E9C2AF" opacity="0.85"/>
<circle cx="399.9" cy="1633.2" r="6.6" fill="#DCCBA6" opacity="0.85"/>
<polygon points="379.6,1591.69 371.1,1606.41 388.1,1606.41" fill="#F5C3DE" opacity="0.85"/>
<polygon points="379.6,1596.19 371.1,1610.91 388.1,1610.91" fill="#F5C3DE" opacity="0.85"/>
<circle cx="301.7" cy="1593.7" r="6.6" fill="#F5C3DE" opacity="0.85"/>
<circle cx="301.7" cy="1599.3" r="6.6" fill="#F5C3DE" opacity="0.85"/>
<circle cx="306.2" cy="1593.7" r="6.6" fill="#F6EDA8" opacity="0.85"/>
<polygon points="466.6,1579.19 458.1,1593.91 475.1,1593.91" fill="#DCCBA6" opacity="0.85"/>
<polygon points="466.6,1613.09 458.1,1627.81 475.1,1627.81" fill="#DCCBA6" opacity="0.85"/>
<polygon points="466.6,1619.89 458.1,1634.61 475.1,1634.61" fill="#DCCBA6" opacity="0.85"/>
<polygon points="466.6,1631.19 458.1,1645.91 475.1,1645.91" fill="#DCCBA6" opacity="0.85"/>
<circle cx="188.3" cy="1620.8" r="6.6" fill="#F6EDA8" opacity="0.85"/>
<circle cx="188.3" cy="1658.7" r="6.6" fill="#F6EDA8" opacity="0.85"/>
<circle cx="188.3" cy="1661" r="6.6" fill="#F6EDA8" opacity="0.85"/>
<circle cx="267.8" cy="1617.4" r="6.6" fill="#F5C3DE" opacity="0.85"/>
<polygon points="278,1608.59 269.5,1623.31 286.5,1623.31" fill="#F5C3DE" opacity="0.85"/>
<circle cx="305" cy="1617" r="6.6" fill="#F6EDA8" opacity="0.85"/>
<circle cx="305" cy="1630" r="6.6" fill="#F6EDA8" opacity="0.85"/>
<circle cx="305" cy="1642" r="6.6" fill="#F6EDA8" opacity="0.85"/>
<circle cx="305" cy="1655" r="6.6" fill="#F6EDA8" opacity="0.85"/>
<circle cx="305" cy="1667" r="6.6" fill="#F6EDA8" opacity="0.85"/>
<polygon points="278,1627.79 269.5,1642.51 286.5,1642.51" fill="#F5C3DE" opacity="0.85"/>
<polygon points="278,1636.79 269.5,1651.51 286.5,1651.51" fill="#F5C3DE" opacity="0.85"/>
<circle cx="266.7" cy="1645.2" r="6.6" fill="#F6EDA8" opacity="0.85"/>
<circle cx="266.7" cy="1652.4" r="6.6" fill="#F6EDA8" opacity="0.85"/>
<circle cx="266.7" cy="1660.3" r="6.6" fill="#F6EDA8" opacity="0.85"/>
<circle cx="301.7" cy="1629.8" r="6.6" fill="#F5C3DE" opacity="0.85"/>
<polygon points="343.5,1614.19 335,1628.91 352,1628.91" fill="#DCCBA6" opacity="0.85"/>
<polygon points="343.5,1625.49 335,1640.21 352,1640.21" fill="#F6EDA8" opacity="0.85"/>
<polygon points="343.5,1636.79 335,1651.51 352,1651.51" fill="#F6EDA8" opacity="0.85"/>
<polygon points="343.5,1645.89 335,1660.61 352,1660.61" fill="#DCCBA6" opacity="0.85"/>
<polygon points="343.5,1654.89 335,1669.61 352,1669.61" fill="#F6EDA8" opacity="0.85"/>
<polygon points="343.5,1660.49 335,1675.21 352,1675.21" fill="#DCCBA6" opacity="0.85"/>
<circle cx="360.4" cy="1658.5" r="6.6" fill="#F6EDA8" opacity="0.85"/>
<polygon points="381.9,1619.89 373.4,1634.61 390.4,1634.61" fill="#F5C3DE" opacity="0.85"/>
<polygon points="381.9,1627.19 373.4,1641.91 390.4,1641.91" fill="#F5C3DE" opacity="0.85"/>
<polygon points="381.9,1639.09 373.4,1653.81 390.4,1653.81" fill="#F5C3DE" opacity="0.85"/>
<polygon points="381.9,1657.19 373.4,1671.91 390.4,1671.91" fill="#F5C3DE" opacity="0.85"/>
<circle cx="444.7" cy="1649.7" r="6.6" fill="#DCCBA6" opacity="0.85"/>
<polygon points="701.2,1334.09 692.7,1348.81 709.7,1348.81" fill="#A9CFD3" opacity="0.85"/>
<circle cx="554.2" cy="1384.7" r="6.6" fill="#E6CDB5" opacity="0.85"/>
<circle cx="554.2" cy="1452.5" r="6.6" fill="#E6CDB5" opacity="0.85"/>
<circle cx="572.5" cy="1471" r="6.6" fill="#FCD49C" opacity="0.85"/>
<polygon points="650.2,1515.99 641.7,1530.71 658.7,1530.71" fill="#C2DFC4" opacity="0.85"/>
<polygon points="755.9,1523.89 747.4,1538.61 764.4,1538.61" fill="#A6C8E0" opacity="0.85"/>
<polygon points="804.9,1545.29 796.4,1560.01 813.4,1560.01" fill="#EBA5A5" opacity="0.85"/>
<circle cx="515.8" cy="1560.2" r="6.6" fill="#C2DFC4" opacity="0.85"/>
<polygon points="545.1,1556.59 536.6,1571.31 553.6,1571.31" fill="#EBA5A5" opacity="0.85"/>
<polygon points="701.2,1553.19 692.7,1567.91 709.7,1567.91" fill="#A9CFD3" opacity="0.85"/>
<circle cx="734" cy="1563.2" r="6.6" fill="#F3D3E6" opacity="0.85"/>
<polygon points="780.7,1561.19 772.2,1575.91 789.2,1575.91" fill="#A6C8E0" opacity="0.85"/>
<polygon points="841.7,1566.79 833.2,1581.51 850.2,1581.51" fill="#D3D3D3" opacity="0.85"/>
<polygon points="720.9,1572.49 712.4,1587.21 729.4,1587.21" fill="#F7A09C" opacity="0.85"/>
<circle cx="757.7" cy="1580.8" r="6.6" fill="#FCE59C" opacity="0.85"/>
<polygon points="755.9,1578.09 747.4,1592.81 764.4,1592.81" fill="#A6C8E0" opacity="0.85"/>
<circle cx="765.6" cy="1594.8" r="6.6" fill="#EDB9AE" opacity="0.85"/>
<circle cx="757.7" cy="1598.6" r="6.6" fill="#FCE59C" opacity="0.85"/>
<polygon points="545.1,1582.59 536.6,1597.31 553.6,1597.31" fill="#EBA5A5" opacity="0.85"/>
<circle cx="572.5" cy="1594.8" r="6.6" fill="#FCD49C" opacity="0.85"/>
<circle cx="700.1" cy="1604.3" r="6.6" fill="#BDB4C6" opacity="0.85"/>
<circle cx="607.3" cy="1612.9" r="6.6" fill="#D7CBE3" opacity="0.85"/>
<circle cx="668.9" cy="1620.3" r="6.6" fill="#D7CBE3" opacity="0.85"/>
<circle cx="687" cy="1624.8" r="6.6" fill="#C2DFC4" opacity="0.85"/>
<circle cx="668.9" cy="1633.2" r="6.6" fill="#D7CBE3" opacity="0.85"/>
<polygon points="775.1,1616.89 766.6,1631.61 783.6,1631.61" fill="#D2AFBE" opacity="0.85"/>
<circle cx="767.2" cy="1628.7" r="6.6" fill="#FCD49C" opacity="0.85"/>
<circle cx="515.8" cy="1635.5" r="6.6" fill="#C2DFC4" opacity="0.85"/>
<circle cx="588.7" cy="1633.2" r="6.6" fill="#F0C3AA" opacity="0.85"/>
<circle cx="588.7" cy="1640" r="6.6" fill="#F0C3AA" opacity="0.85"/>
<circle cx="698.3" cy="1636.6" r="6.6" fill="#D7CBE3" opacity="0.85"/>
<circle cx="703.9" cy="1636.6" r="6.6" fill="#FCD49C" opacity="0.85"/>
<circle cx="719.8" cy="1635.5" r="6.6" fill="#FCE59C" opacity="0.85"/>
<circle cx="734" cy="1637.7" r="6.6" fill="#F3D3E6" opacity="0.85"/>
<polygon points="775.1,1631.19 766.6,1645.91 783.6,1645.91" fill="#D2AFBE" opacity="0.85"/>
<polygon points="804.9,1636.79 796.4,1651.51 813.4,1651.51" fill="#EBA5A5" opacity="0.85"/>
<circle cx="709.6" cy="1646.8" r="6.6" fill="#F3D3E6" opacity="0.85"/>
<polygon points="720.9,1637.99 712.4,1652.71 729.4,1652.71" fill="#F7A09C" opacity="0.85"/>
<circle cx="607.3" cy="1644.5" r="6.6" fill="#D7CBE3" opacity="0.85"/>
<polygon points="582.6,1646.99 574.1,1661.71 591.1,1661.71" fill="#C2DFC4" opacity="0.85"/>
<circle cx="781.4" cy="1655.8" r="6.6" fill="#C2DFC4" opacity="0.85"/>
<circle cx="781.4" cy="1666" r="6.6" fill="#C2DFC4" opacity="0.85"/>
<circle cx="607.3" cy="1660.3" r="6.6" fill="#D7CBE3" opacity="0.85"/>
<circle cx="607.3" cy="1668.2" r="6.6" fill="#D7CBE3" opacity="0.85"/>
<polygon points="623.8,1659.39 615.3,1674.11 632.3,1674.11" fill="#A9CFD3" opacity="0.85"/>
<polygon points="809,1654.89 800.5,1669.61 817.5,1669.61" fill="#B3BCD8" opacity="0.85"/>
<circle cx="697" cy="1662" r="6.6" fill="#C2DFC4" opacity="0.85"/>
<circle cx="702" cy="1665" r="6.6" fill="#FCD49C" opacity="0.85"/>
<circle cx="706" cy="1662" r="6.6" fill="#FCD49C" opacity="0.85"/>
<circle cx="699" cy="1669" r="6.6" fill="#D7CBE3" opacity="0.85"/>
<circle cx="708" cy="1669" r="6.6" fill="#FCD49C" opacity="0.85"/>
<circle cx="719.8" cy="1662.6" r="6.6" fill="#FCE59C" opacity="0.85"/>
<path d="M148 1528.5 L153.44 1530.69 L158.88 1532.88 L164.32 1535.06 L169.76 1537.24 L175.2 1539.42 L180.64 1541.59 L186.08 1543.75 L191.52 1545.9 L196.96 1548.05 L202.4 1550.19 L207.84 1552.31 L213.28 1554.43 L218.72 1556.54 L224.16 1558.63 L229.6 1560.71 L235.04 1562.77 L240.48 1564.82 L245.92 1566.84 L251.36 1568.85 L256.8 1570.83 L262.24 1572.78 L267.68 1574.7 L273.12 1576.59 L278.56 1578.45 L284 1580.25 L289.44 1582.01 L294.88 1583.72 L300.32 1585.37 L305.76 1586.95 L311.2 1588.46 L316.64 1589.89 L322.08 1591.24 L327.52 1592.49 L332.96 1593.65 L338.4 1594.72 L343.84 1595.68 L349.28 1596.55 L354.72 1597.31 L360.16 1597.99 L365.6 1598.57 L371.04 1599.07 L376.48 1599.49 L381.92 1599.85 L387.36 1600.13 L392.8 1600.36 L398.24 1600.54 L403.68 1600.67 L409.12 1600.76 L414.56 1600.82 L420 1600.84 L425.44 1600.83 L430.88 1600.79 L436.32 1600.73 L441.76 1600.65 L447.2 1600.55 L452.64 1600.43 L458.08 1600.3 L463.52 1600.15 L468.96 1600 L474.4 1599.83 L474.4 1672.37 L468.96 1670.25 L463.52 1668.15 L458.08 1666.05 L452.64 1663.97 L447.2 1661.9 L441.76 1659.85 L436.32 1657.82 L430.88 1655.81 L425.44 1653.82 L420 1651.86 L414.56 1649.93 L409.12 1648.04 L403.68 1646.18 L398.24 1644.36 L392.8 1642.59 L387.36 1640.87 L381.92 1639.2 L376.48 1637.61 L371.04 1636.08 L365.6 1634.63 L360.16 1633.26 L354.72 1631.99 L349.28 1630.8 L343.84 1629.72 L338.4 1628.73 L332.96 1627.85 L327.52 1627.06 L322.08 1626.36 L316.64 1625.76 L311.2 1625.24 L305.76 1624.8 L300.32 1624.43 L294.88 1624.13 L289.44 1623.89 L284 1623.7 L278.56 1623.55 L273.12 1623.46 L267.68 1623.4 L262.24 1623.37 L256.8 1623.37 L251.36 1623.4 L245.92 1623.46 L240.48 1623.53 L235.04 1623.63 L229.6 1623.74 L224.16 1623.87 L218.72 1624.01 L213.28 1624.17 L207.84 1624.34 L202.4 1624.51 L196.96 1624.7 L191.52 1624.9 L186.08 1625.1 L180.64 1625.31 L175.2 1625.53 L169.76 1625.76 L164.32 1625.99 L158.88 1626.22 L153.44 1626.46 L148 1626.7 Z" fill="#999999" opacity="0.2"/>
<path d="M516 1538 L521.43 1539.81 L526.86 1541.62 L532.28 1543.41 L537.71 1545.2 L543.14 1546.97 L548.57 1548.74 L554 1550.49 L559.43 1552.22 L564.86 1553.95 L570.28 1555.66 L575.71 1557.35 L581.14 1559.03 L586.57 1560.69 L592 1562.32 L597.42 1563.94 L602.85 1565.54 L608.28 1567.11 L613.71 1568.66 L619.14 1570.18 L624.57 1571.67 L630 1573.13 L635.42 1574.56 L640.85 1575.95 L646.28 1577.31 L651.71 1578.63 L657.14 1579.91 L662.57 1581.16 L667.99 1582.35 L673.42 1583.51 L678.85 1584.62 L684.28 1585.69 L689.71 1586.71 L695.13 1587.68 L700.56 1588.6 L705.99 1589.48 L711.42 1590.32 L716.85 1591.11 L722.28 1591.85 L727.71 1592.55 L733.13 1593.21 L738.56 1593.83 L743.99 1594.41 L749.42 1594.96 L754.85 1595.47 L760.28 1595.94 L765.7 1596.39 L771.13 1596.8 L776.56 1597.19 L781.99 1597.55 L787.42 1597.89 L792.85 1598.2 L798.27 1598.5 L803.7 1598.77 L809.13 1599.02 L814.56 1599.26 L819.99 1599.48 L825.41 1599.68 L830.84 1599.87 L836.27 1600.05 L841.7 1600.21 L841.7 1672.99 L836.27 1671.23 L830.84 1669.49 L825.41 1667.76 L819.99 1666.04 L814.56 1664.34 L809.13 1662.66 L803.7 1660.99 L798.27 1659.34 L792.85 1657.72 L787.42 1656.11 L781.99 1654.53 L776.56 1652.97 L771.13 1651.44 L765.7 1649.93 L760.28 1648.46 L754.85 1647.01 L749.42 1645.6 L743.99 1644.23 L738.56 1642.89 L733.13 1641.59 L727.71 1640.33 L722.28 1639.11 L716.85 1637.93 L711.42 1636.8 L705.99 1635.72 L700.56 1634.68 L695.13 1633.68 L689.71 1632.73 L684.28 1631.83 L678.85 1630.98 L673.42 1630.17 L667.99 1629.41 L662.57 1628.68 L657.14 1628.01 L651.71 1627.37 L646.28 1626.77 L640.85 1626.21 L635.42 1625.68 L630 1625.19 L624.57 1624.73 L619.14 1624.3 L613.71 1623.9 L608.28 1623.53 L602.85 1623.18 L597.42 1622.86 L592 1622.56 L586.57 1622.27 L581.14 1622.01 L575.71 1621.77 L570.28 1621.54 L564.86 1621.33 L559.43 1621.14 L554 1620.95 L548.57 1620.78 L543.14 1620.63 L537.71 1620.48 L532.28 1620.35 L526.86 1620.22 L521.43 1620.11 L516 1620 Z" fill="#999999" opacity="0.2"/>
<line x1="148" y1="1577.6" x2="474.4" y2="1636.1" stroke="#000" stroke-width="2.6"/>
<line x1="516" y1="1579" x2="841.7" y2="1636.6" stroke="#000" stroke-width="2.6"/>
<line x1="131.5" y1="1229.2" x2="131.5" y2="1674.1" stroke="#000" stroke-width="1.8"/>
<line x1="130.6" y1="1673.3" x2="489.6" y2="1673.3" stroke="#000" stroke-width="1.8"/>
<line x1="499.6" y1="1230" x2="499.6" y2="1674.1" stroke="#000" stroke-width="1.8"/>
<line x1="498.7" y1="1673.3" x2="858" y2="1673.3" stroke="#000" stroke-width="1.8"/>
<line x1="126.5" y1="1672.6" x2="131.5" y2="1672.6" stroke="#333" stroke-width="1.2"/>
<text x="123" y="1681.24" font-size="24" text-anchor="end">0</text>
<line x1="126.5" y1="1553.52" x2="131.5" y2="1553.52" stroke="#333" stroke-width="1.2"/>
<text x="123" y="1562.16" font-size="24" text-anchor="end">2500</text>
<line x1="126.5" y1="1434.45" x2="131.5" y2="1434.45" stroke="#333" stroke-width="1.2"/>
<text x="123" y="1443.09" font-size="24" text-anchor="end">5000</text>
<line x1="126.5" y1="1315.38" x2="131.5" y2="1315.38" stroke="#333" stroke-width="1.2"/>
<text x="123" y="1324.02" font-size="24" text-anchor="end">7500</text>
<line x1="149.9" y1="1673.3" x2="149.9" y2="1678.3" stroke="#333" stroke-width="1.2"/>
<line x1="245.2" y1="1673.3" x2="245.2" y2="1678.3" stroke="#333" stroke-width="1.2"/>
<line x1="340.5" y1="1673.3" x2="340.5" y2="1678.3" stroke="#333" stroke-width="1.2"/>
<line x1="436.1" y1="1673.3" x2="436.1" y2="1678.3" stroke="#333" stroke-width="1.2"/>
<line x1="516.9" y1="1673.3" x2="516.9" y2="1678.3" stroke="#333" stroke-width="1.2"/>
<line x1="612.5" y1="1673.3" x2="612.5" y2="1678.3" stroke="#333" stroke-width="1.2"/>
<line x1="708.5" y1="1673.3" x2="708.5" y2="1678.3" stroke="#333" stroke-width="1.2"/>
<line x1="804" y1="1673.3" x2="804" y2="1678.3" stroke="#333" stroke-width="1.2"/>
<text x="149.9" y="1697.5" font-size="24" text-anchor="middle">20</text>
<text x="245.2" y="1697.5" font-size="24" text-anchor="middle">40</text>
<text x="340.5" y="1697.5" font-size="24" text-anchor="middle">60</text>
<text x="436.1" y="1697.5" font-size="24" text-anchor="middle">80</text>
<text x="516.9" y="1697.5" font-size="24" text-anchor="middle">20</text>
<text x="612.5" y="1697.5" font-size="24" text-anchor="middle">40</text>
<text x="708.5" y="1697.5" font-size="24" text-anchor="middle">60</text>
<text x="804" y="1697.5" font-size="24" text-anchor="middle">80</text>
<text x="500.9" y="1727.5" font-size="25.3" text-anchor="middle">Age (Years)</text>
<text transform="translate(48.2 1482.2) rotate(-90)" font-size="25.5" text-anchor="middle">Richness (Chao 1)</text>
<text x="198.8" y="1299.5" font-size="27.8" font-style="italic">R</text>
<text x="224.9" y="1299.5" font-size="27.8">=</text>
<text x="248.1" y="1299.5" font-size="27.8">−</text>
<text x="266.79" y="1299.5" font-size="27.8">0.18,</text>
<text x="337.51" y="1299.5" font-size="27.8" font-style="italic">p</text>
<text x="359.9" y="1299.5" font-size="27.8">=</text>
<text x="382.09" y="1299.5" font-size="27.8">0.14</text>
<text x="566.3" y="1299.5" font-size="27.8" font-style="italic">R</text>
<text x="592.4" y="1299.5" font-size="27.8">=</text>
<text x="615.6" y="1299.5" font-size="27.8">−</text>
<text x="634.29" y="1299.5" font-size="27.8">0.22,</text>
<text x="705.01" y="1299.5" font-size="27.8" font-style="italic">p</text>
<text x="727.4" y="1299.5" font-size="27.8">=</text>
<text x="749.59" y="1299.5" font-size="27.8">0.11</text>
<text x="871.2" y="1263.6" font-size="25.6">Outcome</text>
<circle cx="872.4" cy="1288.9" r="6.9" fill="#000"/>
<text x="887.5" y="1296" font-size="25.4">Discharged</text>
<polygon points="872.4,1307.09 863.3,1322.85 881.5,1322.85" fill="#000"/>
<text x="887.5" y="1324.6" font-size="25.4">Deceased</text>
<text x="1035.2" y="1202" font-size="47.5" font-weight="bold">k</text>
<text x="1303.4" y="1223.8" font-size="25.5" text-anchor="middle">SARS-CoV-2-P</text>
<text x="1669.3" y="1223.8" font-size="25.5" text-anchor="middle">Combined NPC, OP and OVP</text>
<circle cx="1163.1" cy="1263.1" r="6.7" fill="#F39B7F"/>
<circle cx="1141.2" cy="1321.2" r="6.7" fill="#8491B4"/>
<circle cx="1286.2" cy="1456.7" r="6.7" fill="#F39B7F"/>
<circle cx="1152.3" cy="1477.1" r="6.7" fill="#F39B7F"/>
<circle cx="1163.1" cy="1483.8" r="6.7" fill="#F39B7F"/>
<circle cx="1141.2" cy="1485.4" r="6.7" fill="#8491B4"/>
<circle cx="1195.4" cy="1537.4" r="6.7" fill="#B09C85"/>
<circle cx="1173.9" cy="1541.9" r="6.7" fill="#F39B7F"/>
<circle cx="1181.2" cy="1546" r="6.7" fill="#B09C85"/>
<polygon points="1141.2,1534.6 1132.45,1549.75 1149.95,1549.75" fill="#8491B4"/>
<polygon points="1192.5,1541.4 1183.75,1556.55 1201.25,1556.55" fill="#F39B7F"/>
<polygon points="1243.3,1541.4 1234.55,1556.55 1252.05,1556.55" fill="#F39B7F"/>
<polygon points="1260.9,1534.6 1252.15,1549.75 1269.65,1549.75" fill="#F39B7F"/>
<circle cx="1286.2" cy="1553.9" r="6.7" fill="#F39B7F"/>
<circle cx="1138.2" cy="1560.7" r="6.7" fill="#8491B4"/>
<circle cx="1152.5" cy="1560.7" r="6.7" fill="#F39B7F"/>
<polygon points="1169.9,1553.8 1161.15,1568.95 1178.65,1568.95" fill="#8491B4"/>
<circle cx="1206" cy="1575.4" r="6.7" fill="#F39B7F"/>
<circle cx="1256.9" cy="1575.4" r="6.7" fill="#F39B7F"/>
<polygon points="1188,1567.4 1179.25,1582.55 1196.75,1582.55" fill="#F39B7F"/>
<circle cx="1199.9" cy="1580.3" r="6.7" fill="#8491B4"/>
<polygon points="1256.9,1573 1248.15,1588.15 1265.65,1588.15" fill="#8491B4"/>
<polygon points="1293.5,1570.8 1284.75,1585.95 1302.25,1585.95" fill="#8491B4"/>
<polygon points="1311.8,1575.3 1303.05,1590.45 1320.55,1590.45" fill="#8491B4"/>
<circle cx="1322.4" cy="1584.4" r="6.7" fill="#F39B7F"/>
<circle cx="1322.4" cy="1594.6" r="6.7" fill="#F39B7F"/>
<polygon points="1340.5,1579.8 1331.75,1594.95 1349.25,1594.95" fill="#B09C85"/>
<circle cx="1139.4" cy="1578.7" r="6.7" fill="#8491B4"/>
<polygon points="1145,1574.2 1136.25,1589.35 1153.75,1589.35" fill="#F39B7F"/>
<circle cx="1174.4" cy="1588.9" r="6.7" fill="#B09C85"/>
<circle cx="1181.2" cy="1587.8" r="6.7" fill="#B09C85"/>
<circle cx="1194.7" cy="1586.2" r="6.7" fill="#B09C85"/>
<circle cx="1206" cy="1593.4" r="6.7" fill="#F39B7F"/>
<polygon points="1169.9,1585.5 1161.15,1600.65 1178.65,1600.65" fill="#F39B7F"/>
<polygon points="1188,1588.8 1179.25,1603.95 1196.75,1603.95" fill="#F39B7F"/>
<polygon points="1184.6,1592.2 1175.85,1607.35 1193.35,1607.35" fill="#8491B4"/>
<polygon points="1209.4,1592.2 1200.65,1607.35 1218.15,1607.35" fill="#B09C85"/>
<polygon points="1224.1,1591.1 1215.35,1606.25 1232.85,1606.25" fill="#F39B7F"/>
<polygon points="1225.2,1601.3 1216.45,1616.45 1233.95,1616.45" fill="#F39B7F"/>
<polygon points="1243.3,1587.7 1234.55,1602.85 1252.05,1602.85" fill="#F39B7F"/>
<circle cx="1141.2" cy="1602.5" r="6.7" fill="#8491B4"/>
<polygon points="1143.9,1596.8 1135.15,1611.95 1152.65,1611.95" fill="#F39B7F"/>
<polygon points="1311.8,1594.5 1303.05,1609.65 1320.55,1609.65" fill="#8491B4"/>
<circle cx="1359.2" cy="1607" r="6.7" fill="#F39B7F"/>
<circle cx="1138.2" cy="1612.6" r="6.7" fill="#8491B4"/>
<circle cx="1157.4" cy="1612.6" r="6.7" fill="#8491B4"/>
<circle cx="1159.7" cy="1614.9" r="6.7" fill="#8491B4"/>
<circle cx="1247.8" cy="1614.9" r="6.7" fill="#B09C85"/>
<polygon points="1253.5,1604.7 1244.75,1619.85 1262.25,1619.85" fill="#B09C85"/>
<circle cx="1199.9" cy="1617.2" r="6.7" fill="#8491B4"/>
<polygon points="1227.9,1611.4 1219.15,1626.55 1236.65,1626.55" fill="#F39B7F"/>
<polygon points="1340.5,1609.2 1331.75,1624.35 1349.25,1624.35" fill="#B09C85"/>
<circle cx="1359.2" cy="1621.7" r="6.7" fill="#F39B7F"/>
<polygon points="1585.7,1321.1 1576.95,1336.25 1594.45,1336.25" fill="#8491B4"/>
<circle cx="1578.7" cy="1367" r="6.7" fill="#707070"/>
<circle cx="1578.7" cy="1428" r="6.7" fill="#707070"/>
<circle cx="1832.5" cy="1444.3" r="6.7" fill="#707070"/>
<polygon points="1516.6,1483.8 1507.85,1498.95 1525.35,1498.95" fill="#8491B4"/>
<polygon points="1531.5,1491.7 1522.75,1506.85 1540.25,1506.85" fill="#8491B4"/>
<polygon points="1509.4,1509.8 1500.65,1524.95 1518.15,1524.95" fill="#707070"/>
<circle cx="1513.9" cy="1524.5" r="6.7" fill="#707070"/>
<polygon points="1506,1522.2 1497.25,1537.35 1514.75,1537.35" fill="#707070"/>
<polygon points="1508.9,1531.2 1500.15,1546.35 1517.65,1546.35" fill="#707070"/>
<polygon points="1571.5,1524.5 1562.75,1539.65 1580.25,1539.65" fill="#8491B4"/>
<polygon points="1585.7,1517.7 1576.95,1532.85 1594.45,1532.85" fill="#8491B4"/>
<circle cx="1669.3" cy="1526.8" r="6.7" fill="#707070"/>
<polygon points="1589.1,1535.7 1580.35,1550.85 1597.85,1550.85" fill="#B09C85"/>
<polygon points="1531.5,1539.1 1522.75,1554.25 1540.25,1554.25" fill="#8491B4"/>
<polygon points="1504.9,1544.8 1496.15,1559.95 1513.65,1559.95" fill="#707070"/>
<circle cx="1509.4" cy="1559.5" r="6.7" fill="#707070"/>
<circle cx="1832.5" cy="1556.1" r="6.7" fill="#707070"/>
<circle cx="1527.9" cy="1564.1" r="6.7" fill="#8491B4"/>
<circle cx="1542.1" cy="1572.6" r="6.7" fill="#F39B7F"/>
<circle cx="1527.4" cy="1580" r="6.7" fill="#F39B7F"/>
<circle cx="1531.5" cy="1582.6" r="6.7" fill="#8491B4"/>
<circle cx="1506" cy="1584.4" r="6.7" fill="#707070"/>
<circle cx="1596.4" cy="1593" r="6.7" fill="#707070"/>
<polygon points="1589.1,1586.6 1580.35,1601.75 1597.85,1601.75" fill="#B09C85"/>
<circle cx="1669.3" cy="1594.6" r="6.7" fill="#707070"/>
<circle cx="1527.4" cy="1592.3" r="6.7" fill="#F39B7F"/>
<circle cx="1512.8" cy="1592.3" r="6.7" fill="#8491B4"/>
<circle cx="1513.9" cy="1600.2" r="6.7" fill="#8491B4"/>
<polygon points="1507.1,1588.8 1498.35,1603.95 1515.85,1603.95" fill="#707070"/>
<polygon points="1509.4,1592.9 1500.65,1608.05 1518.15,1608.05" fill="#707070"/>
<polygon points="1552.8,1594.5 1544.05,1609.65 1561.55,1609.65" fill="#707070"/>
<polygon points="1527.4,1603.5 1518.65,1618.65 1536.15,1618.65" fill="#707070"/>
<circle cx="1542.1" cy="1614.9" r="6.7" fill="#F39B7F"/>
<circle cx="1516" cy="1614" r="6.7" fill="#F39B7F"/>
<circle cx="1509.4" cy="1616" r="6.7" fill="#8491B4"/>
<circle cx="1508.2" cy="1620.5" r="6.7" fill="#8491B4"/>
<circle cx="1596.4" cy="1617.6" r="6.7" fill="#707070"/>
<circle cx="1567.7" cy="1621.7" r="6.7" fill="#F39B7F"/>
<polygon points="1509.4,1613.7 1500.65,1628.85 1518.15,1628.85" fill="#707070"/>
<polygon points="1509.4,1616.9 1500.65,1632.05 1518.15,1632.05" fill="#707070"/>
<circle cx="1527.4" cy="1624" r="6.7" fill="#8491B4"/>
<polygon points="1530.8,1608.1 1522.05,1623.25 1539.55,1623.25" fill="#707070"/>
<path d="M1137.6 1534.29 L1143.03 1536.16 L1148.47 1537.97 L1153.9 1539.73 L1159.33 1541.43 L1164.77 1543.07 L1170.2 1544.65 L1175.63 1546.15 L1181.07 1547.59 L1186.5 1548.94 L1191.93 1550.23 L1197.37 1551.44 L1202.8 1552.57 L1208.23 1553.63 L1213.67 1554.63 L1219.1 1555.55 L1224.53 1556.41 L1229.97 1557.22 L1235.4 1557.97 L1240.83 1558.66 L1246.27 1559.31 L1251.7 1559.92 L1257.13 1560.49 L1262.57 1561.02 L1268 1561.53 L1273.43 1562 L1278.87 1562.45 L1284.3 1562.87 L1289.73 1563.27 L1295.17 1563.65 L1300.6 1564.01 L1306.03 1564.36 L1311.47 1564.69 L1316.9 1565.01 L1322.33 1565.32 L1327.77 1565.61 L1333.2 1565.9 L1338.63 1566.18 L1344.07 1566.44 L1349.5 1566.7 L1354.93 1566.95 L1360.37 1567.2 L1365.8 1567.44 L1371.23 1567.67 L1376.67 1567.9 L1382.1 1568.12 L1387.53 1568.33 L1392.97 1568.55 L1398.4 1568.76 L1403.83 1568.96 L1409.27 1569.16 L1414.7 1569.36 L1420.13 1569.56 L1425.57 1569.75 L1431 1569.94 L1436.43 1570.13 L1441.87 1570.31 L1447.3 1570.49 L1452.73 1570.67 L1458.17 1570.85 L1463.6 1571.03 L1463.6 1691.77 L1458.17 1689.4 L1452.73 1687.03 L1447.3 1684.67 L1441.87 1682.3 L1436.43 1679.94 L1431 1677.58 L1425.57 1675.22 L1420.13 1672.87 L1414.7 1670.52 L1409.27 1668.17 L1403.83 1665.82 L1398.4 1663.48 L1392.97 1661.15 L1387.53 1658.81 L1382.1 1656.48 L1376.67 1654.16 L1371.23 1651.84 L1365.8 1649.52 L1360.37 1647.22 L1354.93 1644.91 L1349.5 1642.62 L1344.07 1640.33 L1338.63 1638.05 L1333.2 1635.78 L1327.77 1633.52 L1322.33 1631.27 L1316.9 1629.03 L1311.47 1626.8 L1306.03 1624.59 L1300.6 1622.39 L1295.17 1620.2 L1289.73 1618.04 L1284.3 1615.89 L1278.87 1613.77 L1273.43 1611.67 L1268 1609.59 L1262.57 1607.55 L1257.13 1605.54 L1251.7 1603.56 L1246.27 1601.62 L1240.83 1599.72 L1235.4 1597.87 L1229.97 1596.08 L1224.53 1594.33 L1219.1 1592.65 L1213.67 1591.03 L1208.23 1589.47 L1202.8 1587.99 L1197.37 1586.58 L1191.93 1585.24 L1186.5 1583.98 L1181.07 1582.79 L1175.63 1581.67 L1170.2 1580.63 L1164.77 1579.66 L1159.33 1578.75 L1153.9 1577.91 L1148.47 1577.12 L1143.03 1576.39 L1137.6 1575.71 Z" fill="#999999" opacity="0.2"/>
<path d="M1506 1569.13 L1511.44 1567.63 L1516.88 1566 L1522.33 1564.25 L1527.77 1562.38 L1533.21 1560.39 L1538.65 1558.3 L1544.09 1556.12 L1549.53 1553.85 L1554.97 1551.51 L1560.42 1549.11 L1565.86 1546.66 L1571.3 1544.16 L1576.74 1541.62 L1582.18 1539.06 L1587.62 1536.46 L1593.07 1533.84 L1598.51 1531.2 L1603.95 1528.54 L1609.39 1525.87 L1614.83 1523.18 L1620.28 1520.49 L1625.72 1517.78 L1631.16 1515.06 L1636.6 1512.33 L1642.04 1509.6 L1647.48 1506.86 L1652.92 1504.11 L1658.37 1501.36 L1663.81 1498.61 L1669.25 1495.85 L1674.69 1493.08 L1680.13 1490.32 L1685.58 1487.55 L1691.02 1484.77 L1696.46 1482 L1701.9 1479.22 L1707.34 1476.44 L1712.78 1473.66 L1718.22 1470.87 L1723.67 1468.08 L1729.11 1465.3 L1734.55 1462.51 L1739.99 1459.72 L1745.43 1456.92 L1750.88 1454.13 L1756.32 1451.33 L1761.76 1448.54 L1767.2 1445.74 L1772.64 1442.94 L1778.08 1440.14 L1783.53 1437.34 L1788.97 1434.54 L1794.41 1431.74 L1799.85 1428.94 L1805.29 1426.14 L1810.73 1423.33 L1816.17 1420.53 L1821.62 1417.72 L1827.06 1414.92 L1832.5 1412.11 L1832.5 1551.09 L1827.06 1551.57 L1821.62 1552.06 L1816.17 1552.54 L1810.73 1553.03 L1805.29 1553.51 L1799.85 1554 L1794.41 1554.49 L1788.97 1554.98 L1783.53 1555.47 L1778.08 1555.96 L1772.64 1556.45 L1767.2 1556.94 L1761.76 1557.43 L1756.32 1557.93 L1750.88 1558.42 L1745.43 1558.92 L1739.99 1559.41 L1734.55 1559.91 L1729.11 1560.41 L1723.67 1560.92 L1718.22 1561.42 L1712.78 1561.92 L1707.34 1562.43 L1701.9 1562.94 L1696.46 1563.45 L1691.02 1563.97 L1685.58 1564.48 L1680.13 1565 L1674.69 1565.53 L1669.25 1566.05 L1663.81 1566.58 L1658.37 1567.12 L1652.92 1567.66 L1647.48 1568.2 L1642.04 1568.75 L1636.6 1569.31 L1631.16 1569.87 L1625.72 1570.44 L1620.28 1571.02 L1614.83 1571.62 L1609.39 1572.22 L1603.95 1572.84 L1598.51 1573.47 L1593.07 1574.12 L1587.62 1574.79 L1582.18 1575.48 L1576.74 1576.21 L1571.3 1576.96 L1565.86 1577.75 L1560.42 1578.59 L1554.97 1579.48 L1549.53 1580.43 L1544.09 1581.45 L1538.65 1582.56 L1533.21 1583.76 L1527.77 1585.06 L1522.33 1586.48 L1516.88 1588.02 L1511.44 1589.68 L1506 1591.47 Z" fill="#999999" opacity="0.2"/>
<line x1="1137.6" y1="1555" x2="1463.6" y2="1631.4" stroke="#000" stroke-width="2.6"/>
<line x1="1506" y1="1580.3" x2="1832.5" y2="1481.6" stroke="#000" stroke-width="2.6"/>
<line x1="1121.3" y1="1220.7" x2="1121.3" y2="1692.5" stroke="#000" stroke-width="1.8"/>
<line x1="1120.4" y1="1691.7" x2="1479.4" y2="1691.7" stroke="#000" stroke-width="1.8"/>
<line x1="1489.5" y1="1691.7" x2="1848.7" y2="1691.7" stroke="#000" stroke-width="1.8"/>
<line x1="1116.3" y1="1623.9" x2="1121.3" y2="1623.9" stroke="#333" stroke-width="1.2"/>
<text x="1112.8" y="1632.54" font-size="24" text-anchor="end">0</text>
<line x1="1116.3" y1="1517.73" x2="1121.3" y2="1517.73" stroke="#333" stroke-width="1.2"/>
<text x="1112.8" y="1526.37" font-size="24" text-anchor="end">2500</text>
<line x1="1116.3" y1="1411.57" x2="1121.3" y2="1411.57" stroke="#333" stroke-width="1.2"/>
<text x="1112.8" y="1420.21" font-size="24" text-anchor="end">5000</text>
<line x1="1116.3" y1="1305.4" x2="1121.3" y2="1305.4" stroke="#333" stroke-width="1.2"/>
<text x="1112.8" y="1314.04" font-size="24" text-anchor="end">7500</text>
<line x1="1137.6" y1="1691.7" x2="1137.6" y2="1696.7" stroke="#333" stroke-width="1.2"/>
<line x1="1227.9" y1="1691.7" x2="1227.9" y2="1696.7" stroke="#333" stroke-width="1.2"/>
<line x1="1319" y1="1691.7" x2="1319" y2="1696.7" stroke="#333" stroke-width="1.2"/>
<line x1="1409.8" y1="1691.7" x2="1409.8" y2="1696.7" stroke="#333" stroke-width="1.2"/>
<line x1="1506" y1="1691.7" x2="1506" y2="1696.7" stroke="#333" stroke-width="1.2"/>
<line x1="1596.4" y1="1691.7" x2="1596.4" y2="1696.7" stroke="#333" stroke-width="1.2"/>
<line x1="1687.2" y1="1691.7" x2="1687.2" y2="1696.7" stroke="#333" stroke-width="1.2"/>
<line x1="1777.8" y1="1691.7" x2="1777.8" y2="1696.7" stroke="#333" stroke-width="1.2"/>
<text x="1137.6" y="1718" font-size="24" text-anchor="middle">0</text>
<text x="1227.9" y="1718" font-size="24" text-anchor="middle">25</text>
<text x="1319" y="1718" font-size="24" text-anchor="middle">50</text>
<text x="1409.8" y="1718" font-size="24" text-anchor="middle">75</text>
<text x="1506" y="1718" font-size="24" text-anchor="middle">0</text>
<text x="1596.4" y="1718" font-size="24" text-anchor="middle">25</text>
<text x="1687.2" y="1718" font-size="24" text-anchor="middle">50</text>
<text x="1777.8" y="1718" font-size="24" text-anchor="middle">75</text>
<text x="1492.3" y="1746.8" font-size="25.4" text-anchor="middle">Days from intubation</text>
<text transform="translate(1038.4 1485.3) rotate(-90)" font-size="25.7" text-anchor="middle">Richness (Chao 1)</text>
<text x="1175.8" y="1292" font-size="27.8" font-style="italic">R</text>
<text x="1201.6" y="1292" font-size="27.8">=</text>
<text x="1227.3" y="1292" font-size="27.8">−</text>
<text x="1245.99" y="1292" font-size="27.8">0.25,</text>
<text x="1319.81" y="1292" font-size="27.8" font-style="italic">p</text>
<text x="1341.7" y="1292" font-size="27.8">=</text>
<text x="1365.69" y="1292" font-size="27.8">0.044</text>
<text x="1543.4" y="1292" font-size="27.8" font-style="italic">R</text>
<text x="1570.5" y="1292" font-size="27.8">=</text>
<text x="1593.89" y="1292" font-size="27.8">0.33,</text>
<text x="1667.31" y="1292" font-size="27.8" font-style="italic">p</text>
<text x="1690.3" y="1292" font-size="27.8">=</text>
<text x="1713.69" y="1292" font-size="27.8">0.014</text>
<text x="1855.7" y="1236.3" font-size="25.5">Outcome</text>
<circle cx="1866.5" cy="1263.9" r="7.4" fill="#000"/>
<text x="1882" y="1271.3" font-size="25.5">Discharged</text>
<polygon points="1866.5,1283.03 1857,1299.48 1876,1299.48" fill="#000"/>
<text x="1882" y="1300.7" font-size="25.5">Deceased</text>
<text x="1858.9" y="1344.5" font-size="25.5">Infection status</text>
<circle cx="1866.5" cy="1371.1" r="7.6" fill="#8491B4"/>
<text x="1882" y="1379.1" font-size="25.5">Primary only</text>
<circle cx="1866.5" cy="1400.6" r="7.6" fill="#F39B7F"/>
<text x="1882" y="1408.6" font-size="25.5">Superinfection</text>
<circle cx="1866.5" cy="1430.2" r="7.6" fill="#B09C85"/>
<text x="1882" y="1438.2" font-size="25.5">VAP</text>
<text x="13.8" y="1806.8" font-size="47.5" font-weight="bold">l</text>
<line x1="137.5" y1="1830.1" x2="137.5" y2="1978.3" stroke="#000" stroke-width="1.8"/>
<line x1="133" y1="1938.75" x2="137.5" y2="1938.75" stroke="#333" stroke-width="1.2"/>
<text x="128.2" y="1946.75" font-size="22.2" text-anchor="end">2500</text>
<line x1="133" y1="1899" x2="137.5" y2="1899" stroke="#333" stroke-width="1.2"/>
<text x="128.2" y="1907" font-size="22.2" text-anchor="end">5000</text>
<line x1="133" y1="1859.25" x2="137.5" y2="1859.25" stroke="#333" stroke-width="1.2"/>
<text x="128.2" y="1867.25" font-size="22.2" text-anchor="end">7500</text>
<line x1="137.5" y1="1987.7" x2="137.5" y2="2136.2" stroke="#000" stroke-width="1.8"/>
<line x1="133" y1="2096.85" x2="137.5" y2="2096.85" stroke="#333" stroke-width="1.2"/>
<text x="128.2" y="2104.85" font-size="22.2" text-anchor="end">2500</text>
<line x1="133" y1="2057.1" x2="137.5" y2="2057.1" stroke="#333" stroke-width="1.2"/>
<text x="128.2" y="2065.1" font-size="22.2" text-anchor="end">5000</text>
<line x1="133" y1="2017.35" x2="137.5" y2="2017.35" stroke="#333" stroke-width="1.2"/>
<text x="128.2" y="2025.35" font-size="22.2" text-anchor="end">7500</text>
<line x1="137.5" y1="2145.6" x2="137.5" y2="2293.4" stroke="#000" stroke-width="1.8"/>
<line x1="133" y1="2254.25" x2="137.5" y2="2254.25" stroke="#333" stroke-width="1.2"/>
<text x="128.2" y="2262.25" font-size="22.2" text-anchor="end">2500</text>
<line x1="133" y1="2214.5" x2="137.5" y2="2214.5" stroke="#333" stroke-width="1.2"/>
<text x="128.2" y="2222.5" font-size="22.2" text-anchor="end">5000</text>
<line x1="133" y1="2174.75" x2="137.5" y2="2174.75" stroke="#333" stroke-width="1.2"/>
<text x="128.2" y="2182.75" font-size="22.2" text-anchor="end">7500</text>
<line x1="136.6" y1="2293.4" x2="435" y2="2293.4" stroke="#000" stroke-width="1.8"/>
<line x1="218.6" y1="2293.4" x2="218.6" y2="2298.4" stroke="#333" stroke-width="1.2"/>
<line x1="354" y1="2293.4" x2="354" y2="2298.4" stroke="#333" stroke-width="1.2"/>
<text x="219.5" y="2317" font-size="25" text-anchor="middle">Discharged</text>
<text x="354.4" y="2317" font-size="25" text-anchor="middle">Deceased</text>
<text transform="translate(50 2047) rotate(-90)" font-size="25.5" text-anchor="middle">Richness (Chao 1)</text>
<line x1="218.55" y1="1926.8" x2="218.55" y2="1954.4" stroke="#333" stroke-width="1.3"/>
<line x1="218.55" y1="1975.1" x2="218.55" y2="1977" stroke="#333" stroke-width="1.3"/>
<rect x="184.4" y="1954.4" width="68.3" height="20.7" fill="#7798D1" stroke="#333" stroke-width="1.6"/>
<line x1="184.4" y1="1962.2" x2="252.7" y2="1962.2" stroke="#333" stroke-width="3.2"/>
<line x1="353.95" y1="1952" x2="353.95" y2="1956" stroke="#333" stroke-width="1.3"/>
<line x1="353.95" y1="1965.4" x2="353.95" y2="1966" stroke="#333" stroke-width="1.3"/>
<rect x="319.5" y="1956" width="68.9" height="9.4" fill="#F2744B" stroke="#333" stroke-width="1.6"/>
<line x1="319.5" y1="1963.4" x2="388.4" y2="1963.4" stroke="#333" stroke-width="3.2"/>
<line x1="218.55" y1="2074" x2="218.55" y2="2089" stroke="#333" stroke-width="1.3"/>
<line x1="218.55" y1="2123.9" x2="218.55" y2="2136" stroke="#333" stroke-width="1.3"/>
<rect x="184.4" y="2089" width="68.3" height="34.9" fill="#7798D1" stroke="#333" stroke-width="1.6"/>
<line x1="184.4" y1="2114.9" x2="252.7" y2="2114.9" stroke="#333" stroke-width="3.2"/>
<line x1="353.95" y1="2106" x2="353.95" y2="2119.1" stroke="#333" stroke-width="1.3"/>
<line x1="353.95" y1="2129.5" x2="353.95" y2="2135" stroke="#333" stroke-width="1.3"/>
<rect x="319.5" y="2119.1" width="68.9" height="10.4" fill="#F2744B" stroke="#333" stroke-width="1.6"/>
<line x1="319.5" y1="2127.5" x2="388.4" y2="2127.5" stroke="#333" stroke-width="3.2"/>
<line x1="218.5" y1="2262" x2="218.5" y2="2268.8" stroke="#333" stroke-width="1.3"/>
<line x1="218.5" y1="2281.3" x2="218.5" y2="2290.5" stroke="#333" stroke-width="1.3"/>
<rect x="184.4" y="2268.8" width="68.2" height="12.5" fill="#7798D1" stroke="#333" stroke-width="1.6"/>
<line x1="184.4" y1="2279.6" x2="252.6" y2="2279.6" stroke="#333" stroke-width="3.2"/>
<line x1="354.1" y1="2283" x2="354.1" y2="2285.4" stroke="#333" stroke-width="1.3"/>
<line x1="354.1" y1="2292.4" x2="354.1" y2="2293" stroke="#333" stroke-width="1.3"/>
<rect x="319.8" y="2285.4" width="68.6" height="7" fill="#F2744B" stroke="#333" stroke-width="1.6"/>
<line x1="319.8" y1="2290.6" x2="388.4" y2="2290.6" stroke="#333" stroke-width="3.2"/>
<circle cx="220.6" cy="1864.7" r="2.9" fill="none" stroke="#000" stroke-width="1.3"/>
<circle cx="220.6" cy="1927.1" r="2.9" fill="none" stroke="#000" stroke-width="1.3"/>
<circle cx="210" cy="1949.7" r="2.9" fill="none" stroke="#000" stroke-width="1.3"/>
<circle cx="226.5" cy="1951" r="2.9" fill="none" stroke="#000" stroke-width="1.3"/>
<circle cx="212.3" cy="1954.7" r="2.9" fill="none" stroke="#000" stroke-width="1.3"/>
<circle cx="218.6" cy="1955.2" r="2.9" fill="none" stroke="#000" stroke-width="1.3"/>
<circle cx="215.5" cy="1962" r="2.9" fill="none" stroke="#000" stroke-width="1.3"/>
<circle cx="220.1" cy="1962.6" r="2.9" fill="none" stroke="#000" stroke-width="1.3"/>
<circle cx="226.1" cy="1961.3" r="2.9" fill="none" stroke="#000" stroke-width="1.3"/>
<circle cx="225.6" cy="1970.9" r="2.9" fill="none" stroke="#000" stroke-width="1.3"/>
<circle cx="213.6" cy="1972.3" r="2.9" fill="none" stroke="#000" stroke-width="1.3"/>
<circle cx="219.7" cy="1972" r="2.9" fill="none" stroke="#000" stroke-width="1.3"/>
<circle cx="210.9" cy="1975.5" r="2.9" fill="none" stroke="#000" stroke-width="1.3"/>
<circle cx="214.6" cy="1975.5" r="2.9" fill="none" stroke="#000" stroke-width="1.3"/>
<circle cx="220.1" cy="1975.1" r="2.9" fill="none" stroke="#000" stroke-width="1.3"/>
<circle cx="212" cy="1976" r="2.9" fill="none" stroke="#000" stroke-width="1.3"/>
<circle cx="359.5" cy="1948.8" r="2.9" fill="none" stroke="#000" stroke-width="1.3"/>
<circle cx="354.4" cy="1955.8" r="2.9" fill="none" stroke="#000" stroke-width="1.3"/>
<circle cx="355.3" cy="1957.1" r="2.9" fill="none" stroke="#000" stroke-width="1.3"/>
<circle cx="350.7" cy="1964.4" r="2.9" fill="none" stroke="#000" stroke-width="1.3"/>
<circle cx="358.1" cy="1963.5" r="2.9" fill="none" stroke="#000" stroke-width="1.3"/>
<circle cx="356.2" cy="1965.4" r="2.9" fill="none" stroke="#000" stroke-width="1.3"/>
<circle cx="352.6" cy="1970.9" r="2.9" fill="none" stroke="#000" stroke-width="1.3"/>
<circle cx="359.5" cy="1972.3" r="2.9" fill="none" stroke="#000" stroke-width="1.3"/>
<circle cx="219.5" cy="2000.9" r="2.9" fill="none" stroke="#000" stroke-width="1.3"/>
<circle cx="226" cy="2073.5" r="2.9" fill="none" stroke="#000" stroke-width="1.3"/>
<circle cx="225.3" cy="2082.5" r="2.9" fill="none" stroke="#000" stroke-width="1.3"/>
<circle cx="226.3" cy="2081" r="2.9" fill="none" stroke="#000" stroke-width="1.3"/>
<circle cx="220.9" cy="2105" r="2.9" fill="none" stroke="#000" stroke-width="1.3"/>
<circle cx="220.9" cy="2110.6" r="2.9" fill="none" stroke="#000" stroke-width="1.3"/>
<circle cx="220.9" cy="2113.4" r="2.9" fill="none" stroke="#000" stroke-width="1.3"/>
<circle cx="209.6" cy="2117.7" r="2.9" fill="none" stroke="#000" stroke-width="1.3"/>
<circle cx="216.7" cy="2117.2" r="2.9" fill="none" stroke="#000" stroke-width="1.3"/>
<circle cx="213.9" cy="2124.7" r="2.9" fill="none" stroke="#000" stroke-width="1.3"/>
<circle cx="223.7" cy="2123.9" r="2.9" fill="none" stroke="#000" stroke-width="1.3"/>
<circle cx="222.3" cy="2130.3" r="2.9" fill="none" stroke="#000" stroke-width="1.3"/>
<circle cx="219.5" cy="2135.1" r="2.9" fill="none" stroke="#000" stroke-width="1.3"/>
<circle cx="347.5" cy="2106.4" r="2.9" fill="none" stroke="#000" stroke-width="1.3"/>
<circle cx="350.3" cy="2107.8" r="2.9" fill="none" stroke="#000" stroke-width="1.3"/>
<circle cx="356" cy="2119.1" r="2.9" fill="none" stroke="#000" stroke-width="1.3"/>
<circle cx="359.6" cy="2121" r="2.9" fill="none" stroke="#000" stroke-width="1.3"/>
<circle cx="351.7" cy="2127.5" r="2.9" fill="none" stroke="#000" stroke-width="1.3"/>
<circle cx="346.1" cy="2128.9" r="2.9" fill="none" stroke="#000" stroke-width="1.3"/>
<circle cx="354.6" cy="2127.5" r="2.9" fill="none" stroke="#000" stroke-width="1.3"/>
<circle cx="349" cy="2133.1" r="2.9" fill="none" stroke="#000" stroke-width="1.3"/>
<circle cx="355.1" cy="2134" r="2.9" fill="none" stroke="#000" stroke-width="1.3"/>
<circle cx="345.6" cy="2134" r="2.9" fill="none" stroke="#000" stroke-width="1.3"/>
<circle cx="219.8" cy="2261.7" r="2.9" fill="none" stroke="#000" stroke-width="1.3"/>
<circle cx="212.8" cy="2264.9" r="2.9" fill="none" stroke="#000" stroke-width="1.3"/>
<circle cx="210.3" cy="2280.6" r="2.9" fill="none" stroke="#000" stroke-width="1.3"/>
<circle cx="218.5" cy="2281" r="2.9" fill="none" stroke="#000" stroke-width="1.3"/>
<circle cx="220" cy="2281.5" r="2.9" fill="none" stroke="#000" stroke-width="1.3"/>
<circle cx="217.5" cy="2290.5" r="2.9" fill="none" stroke="#000" stroke-width="1.3"/>
<circle cx="359.6" cy="2281.4" r="2.9" fill="none" stroke="#000" stroke-width="1.3"/>
<circle cx="351.4" cy="2285.3" r="2.9" fill="none" stroke="#000" stroke-width="1.3"/>
<circle cx="347.3" cy="2291.4" r="2.9" fill="none" stroke="#000" stroke-width="1.3"/>
<circle cx="354.8" cy="2291.4" r="2.9" fill="none" stroke="#000" stroke-width="1.3"/>
<text x="198" y="1851.3" font-size="22">Wilcoxon,</text>
<text x="299" y="1851.3" font-size="22" font-style="italic">p</text>
<text x="317" y="1851.3" font-size="22">=</text>
<text x="336.3" y="1851.3" font-size="22">0.71</text>
<text x="198" y="2027.6" font-size="22">Wilcoxon,</text>
<text x="299" y="2027.6" font-size="22" font-style="italic">p</text>
<text x="317" y="2027.6" font-size="22">=</text>
<text x="336.3" y="2027.6" font-size="22">0.039</text>
<text x="198" y="2181.6" font-size="22">Wilcoxon,</text>
<text x="299" y="2181.6" font-size="22" font-style="italic">p</text>
<text x="317" y="2181.6" font-size="22">=</text>
<text x="336.3" y="2181.6" font-size="22">0.03</text>
<text transform="translate(443 1912.3) rotate(90)" font-size="25" text-anchor="middle">Primary only</text>
<text transform="translate(443 2098) rotate(90)" font-size="25" text-anchor="middle">Superinfection</text>
<text transform="translate(443 2229.9) rotate(90)" font-size="25" text-anchor="middle">VAP</text>
</svg>
</body></html>
